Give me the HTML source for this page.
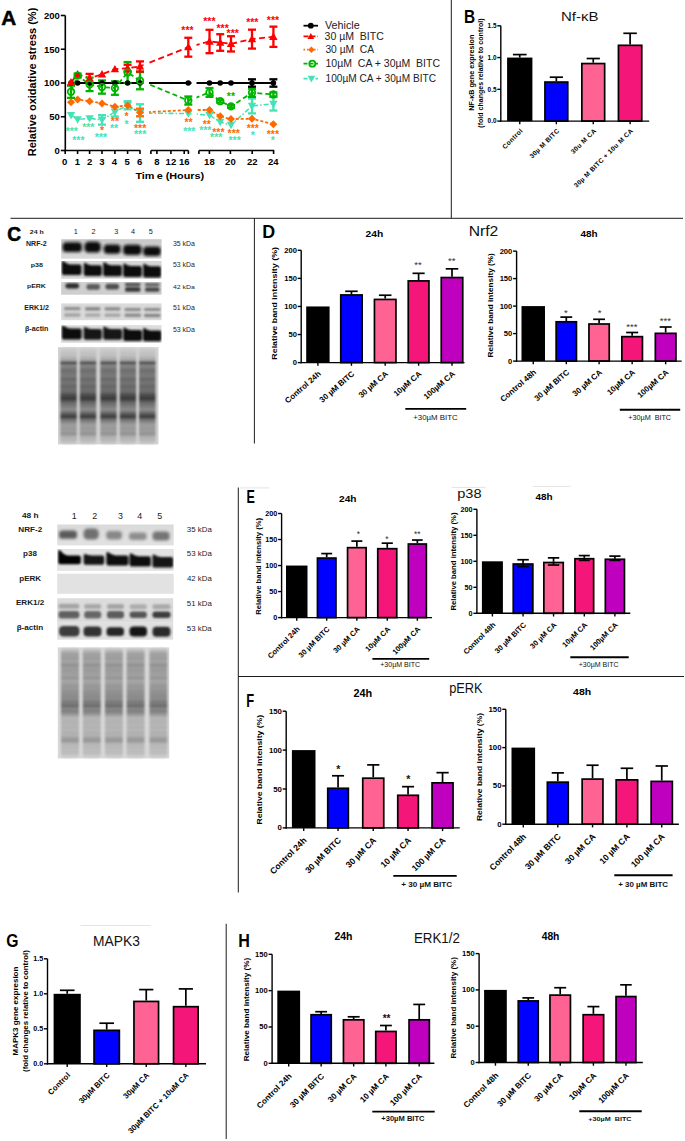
<!DOCTYPE html><html><head><meta charset="utf-8"><style>html,body{margin:0;padding:0;background:#fff;overflow:hidden}svg{display:block}text{font-family:"Liberation Sans",sans-serif;white-space:pre}</style></head><body>
<svg width="685" height="1141" viewBox="0 0 685 1141">
<rect width="685" height="1141" fill="#fff"/>
<line x1="451.3" y1="0" x2="451.3" y2="218.3" stroke="#1c1c1c" stroke-width="1"/>
<line x1="10.5" y1="218.3" x2="683" y2="218.3" stroke="#1c1c1c" stroke-width="1"/>
<line x1="254.4" y1="218.3" x2="254.4" y2="443.5" stroke="#1c1c1c" stroke-width="1"/>
<line x1="238.3" y1="487.5" x2="238.3" y2="892.5" stroke="#1c1c1c" stroke-width="1"/>
<line x1="238.3" y1="676.5" x2="684" y2="676.5" stroke="#1c1c1c" stroke-width="1"/>
<line x1="226.2" y1="923.8" x2="226.2" y2="1139" stroke="#1c1c1c" stroke-width="1"/>
<line x1="451.6" y1="487.4" x2="485.7" y2="487.4" stroke="#e4e4e4" stroke-width="1"/>
<line x1="533" y1="486.4" x2="570.5" y2="486.4" stroke="#e4e4e4" stroke-width="1"/>
<line x1="240" y1="487.9" x2="269" y2="487.9" stroke="#e4e4e4" stroke-width="1"/>
<line x1="80.6" y1="925.5" x2="150.7" y2="925.5" stroke="#e4e4e4" stroke-width="1"/>
<line x1="519.75" y1="57.57" x2="519.75" y2="54.58" stroke="#000" stroke-width="1.7"/>
<line x1="512.92" y1="54.58" x2="526.58" y2="54.58" stroke="#000" stroke-width="1.7"/>
<rect x="507.1" y="57.57" width="25.3" height="63.53" fill="#000"/>
<line x1="556.35" y1="81.2" x2="556.35" y2="77.2" stroke="#000" stroke-width="1.7"/>
<line x1="549.74" y1="77.2" x2="562.97" y2="77.2" stroke="#000" stroke-width="1.7"/>
<rect x="544.95" y="82.05" width="22.8" height="39.05" fill="#0000ff" stroke="#000" stroke-width="1.7"/>
<line x1="593.25" y1="62.71" x2="593.25" y2="58.52" stroke="#000" stroke-width="1.7"/>
<line x1="586.63" y1="58.52" x2="599.87" y2="58.52" stroke="#000" stroke-width="1.7"/>
<rect x="581.85" y="63.56" width="22.8" height="57.54" fill="#ff6394" stroke="#000" stroke-width="1.7"/>
<line x1="630.1" y1="44.48" x2="630.1" y2="33.3" stroke="#000" stroke-width="1.7"/>
<line x1="623.35" y1="33.3" x2="636.85" y2="33.3" stroke="#000" stroke-width="1.7"/>
<rect x="618.45" y="45.33" width="23.3" height="75.77" fill="#f5167a" stroke="#000" stroke-width="1.7"/>
<line x1="500.8" y1="121.8" x2="500.8" y2="25.8" stroke="#000" stroke-width="1.4"/>
<line x1="500.1" y1="121.1" x2="649.2" y2="121.1" stroke="#000" stroke-width="1.4"/>
<line x1="497.3" y1="121.1" x2="500.8" y2="121.1" stroke="#000" stroke-width="1.4"/>
<text x="496.5" y="123.4" font-size="6.4" font-weight="bold" text-anchor="end" fill="#000">0.0</text>
<line x1="497.3" y1="89.33" x2="500.8" y2="89.33" stroke="#000" stroke-width="1.4"/>
<text x="496.5" y="91.64" font-size="6.4" font-weight="bold" text-anchor="end" fill="#000">0.5</text>
<line x1="497.3" y1="57.57" x2="500.8" y2="57.57" stroke="#000" stroke-width="1.4"/>
<text x="496.5" y="59.87" font-size="6.4" font-weight="bold" text-anchor="end" fill="#000">1.0</text>
<line x1="497.3" y1="25.8" x2="500.8" y2="25.8" stroke="#000" stroke-width="1.4"/>
<text x="496.5" y="28.1" font-size="6.4" font-weight="bold" text-anchor="end" fill="#000">1.5</text>
<line x1="519.75" y1="121.1" x2="519.75" y2="124.3" stroke="#000" stroke-width="1.4"/>
<line x1="556.35" y1="121.1" x2="556.35" y2="124.3" stroke="#000" stroke-width="1.4"/>
<line x1="593.25" y1="121.1" x2="593.25" y2="124.3" stroke="#000" stroke-width="1.4"/>
<line x1="630.1" y1="121.1" x2="630.1" y2="124.3" stroke="#000" stroke-width="1.4"/>
<text x="523.25" y="131.1" font-size="6.6" font-weight="bold" text-anchor="end" letter-spacing="0.35" transform="rotate(-45 523.25 131.1)">Control</text>
<text x="559.85" y="131.1" font-size="6.6" font-weight="bold" text-anchor="end" letter-spacing="0.35" transform="rotate(-45 559.85 131.1)">30µ M BITC</text>
<text x="596.75" y="131.1" font-size="6.6" font-weight="bold" text-anchor="end" letter-spacing="0.35" transform="rotate(-45 596.75 131.1)">30u M CA</text>
<text x="633.6" y="131.1" font-size="6.6" font-weight="bold" text-anchor="end" letter-spacing="0.35" transform="rotate(-45 633.6 131.1)">30µ M BITC + 10u M CA</text>
<text x="0" y="0" font-size="7.23" font-weight="bold" fill="#000" transform="translate(474.26 110.87) rotate(-90)">NF-κB gene expresion</text>
<text x="0" y="0" font-size="7.06" font-weight="bold" fill="#000" transform="translate(482.92 127.65) rotate(-90)">(fold changes relative to control)</text>
<text x="0" y="0" font-size="19.28" font-weight="bold" transform="translate(463.9 22.5) scale(0.799 1)">B</text>
<text x="0" y="0" font-size="13.66" fill="#111" transform="translate(561 21.4) scale(1.100 1)">Nf-κB</text>
<rect x="306.2" y="306.45" width="23.4" height="56.15" fill="#000"/>
<line x1="351.45" y1="294.1" x2="351.45" y2="291.29" stroke="#000" stroke-width="1.7"/>
<line x1="345.21" y1="291.29" x2="357.69" y2="291.29" stroke="#000" stroke-width="1.7"/>
<rect x="340.75" y="294.95" width="21.4" height="67.65" fill="#0000ff" stroke="#000" stroke-width="1.7"/>
<line x1="385.2" y1="298.59" x2="385.2" y2="295.22" stroke="#000" stroke-width="1.7"/>
<line x1="378.94" y1="295.22" x2="391.46" y2="295.22" stroke="#000" stroke-width="1.7"/>
<rect x="374.45" y="299.44" width="21.5" height="63.16" fill="#ff6394" stroke="#000" stroke-width="1.7"/>
<line x1="418.6" y1="280.06" x2="418.6" y2="273.32" stroke="#000" stroke-width="1.7"/>
<line x1="412.55" y1="273.32" x2="424.65" y2="273.32" stroke="#000" stroke-width="1.7"/>
<rect x="408.25" y="280.91" width="20.7" height="81.69" fill="#f5167a" stroke="#000" stroke-width="1.7"/>
<line x1="452" y1="276.69" x2="452" y2="268.83" stroke="#000" stroke-width="1.7"/>
<line x1="445.74" y1="268.83" x2="458.26" y2="268.83" stroke="#000" stroke-width="1.7"/>
<rect x="441.25" y="277.54" width="21.5" height="85.06" fill="#bf00bf" stroke="#000" stroke-width="1.7"/>
<line x1="301.2" y1="363.3" x2="301.2" y2="250.3" stroke="#000" stroke-width="1.4"/>
<line x1="300.5" y1="362.6" x2="464.5" y2="362.6" stroke="#000" stroke-width="1.4"/>
<line x1="297.7" y1="362.6" x2="301.2" y2="362.6" stroke="#000" stroke-width="1.4"/>
<text x="296.9" y="365.34" font-size="7.6" font-weight="bold" text-anchor="end" fill="#000">0</text>
<line x1="297.7" y1="334.53" x2="301.2" y2="334.53" stroke="#000" stroke-width="1.4"/>
<text x="296.9" y="337.26" font-size="7.6" font-weight="bold" text-anchor="end" fill="#000">50</text>
<line x1="297.7" y1="306.45" x2="301.2" y2="306.45" stroke="#000" stroke-width="1.4"/>
<text x="296.9" y="309.19" font-size="7.6" font-weight="bold" text-anchor="end" fill="#000">100</text>
<line x1="297.7" y1="278.38" x2="301.2" y2="278.38" stroke="#000" stroke-width="1.4"/>
<text x="296.9" y="281.11" font-size="7.6" font-weight="bold" text-anchor="end" fill="#000">150</text>
<line x1="297.7" y1="250.3" x2="301.2" y2="250.3" stroke="#000" stroke-width="1.4"/>
<text x="296.9" y="253.04" font-size="7.6" font-weight="bold" text-anchor="end" fill="#000">200</text>
<line x1="317.9" y1="362.6" x2="317.9" y2="365.8" stroke="#000" stroke-width="1.4"/>
<line x1="351.45" y1="362.6" x2="351.45" y2="365.8" stroke="#000" stroke-width="1.4"/>
<line x1="385.2" y1="362.6" x2="385.2" y2="365.8" stroke="#000" stroke-width="1.4"/>
<line x1="418.6" y1="362.6" x2="418.6" y2="365.8" stroke="#000" stroke-width="1.4"/>
<line x1="452" y1="362.6" x2="452" y2="365.8" stroke="#000" stroke-width="1.4"/>
<text x="321.4" y="374.6" font-size="8" font-weight="bold" text-anchor="end" transform="rotate(-41 321.4 374.6)">Control 24h</text>
<text x="354.95" y="374.6" font-size="8" font-weight="bold" text-anchor="end" transform="rotate(-41 354.95 374.6)">30 µM BITC</text>
<text x="388.7" y="374.6" font-size="8" font-weight="bold" text-anchor="end" transform="rotate(-41 388.7 374.6)">30 µM CA</text>
<text x="422.1" y="374.6" font-size="8" font-weight="bold" text-anchor="end" transform="rotate(-41 422.1 374.6)">10µM CA</text>
<text x="455.5" y="374.6" font-size="8" font-weight="bold" text-anchor="end" transform="rotate(-41 455.5 374.6)">100µM CA</text>
<text x="418" y="267.83" font-size="9.5" font-weight="normal" text-anchor="middle" fill="#333">**</text>
<text x="451.7" y="264.23" font-size="9.5" font-weight="normal" text-anchor="middle" fill="#333">**</text>
<text x="0" y="0" font-size="8.86" font-weight="bold" fill="#000" transform="translate(277.02 359.68) rotate(-90) scale(1 0.8)">Relative band intensity (%)</text>
<line x1="405.3" y1="408.9" x2="466.2" y2="408.9" stroke="#000" stroke-width="1.9"/>
<text x="0" y="0" font-size="7.27" fill="#111" transform="translate(413.21 419.6) scale(1.082 1)">+30µM BITC</text>
<rect x="521.5" y="306.1" width="23.5" height="55" fill="#000"/>
<line x1="566.3" y1="320.95" x2="566.3" y2="317.1" stroke="#000" stroke-width="1.7"/>
<line x1="560.36" y1="317.1" x2="572.24" y2="317.1" stroke="#000" stroke-width="1.7"/>
<rect x="556.15" y="321.8" width="20.3" height="39.3" fill="#0000ff" stroke="#000" stroke-width="1.7"/>
<line x1="599.1" y1="323.15" x2="599.1" y2="319.3" stroke="#000" stroke-width="1.7"/>
<line x1="593.16" y1="319.3" x2="605.04" y2="319.3" stroke="#000" stroke-width="1.7"/>
<rect x="588.95" y="324" width="20.3" height="37.1" fill="#ff6394" stroke="#000" stroke-width="1.7"/>
<line x1="632.15" y1="335.8" x2="632.15" y2="332.5" stroke="#000" stroke-width="1.7"/>
<line x1="626.13" y1="332.5" x2="638.17" y2="332.5" stroke="#000" stroke-width="1.7"/>
<rect x="621.85" y="336.65" width="20.6" height="24.45" fill="#f5167a" stroke="#000" stroke-width="1.7"/>
<line x1="665.65" y1="332.5" x2="665.65" y2="327" stroke="#000" stroke-width="1.7"/>
<line x1="659.63" y1="327" x2="671.67" y2="327" stroke="#000" stroke-width="1.7"/>
<rect x="655.35" y="333.35" width="20.6" height="27.75" fill="#bf00bf" stroke="#000" stroke-width="1.7"/>
<line x1="516.6" y1="361.8" x2="516.6" y2="251.1" stroke="#000" stroke-width="1.4"/>
<line x1="515.9" y1="361.1" x2="681.7" y2="361.1" stroke="#000" stroke-width="1.4"/>
<line x1="513.1" y1="361.1" x2="516.6" y2="361.1" stroke="#000" stroke-width="1.4"/>
<text x="512.3" y="363.84" font-size="7.6" font-weight="bold" text-anchor="end" fill="#000">0</text>
<line x1="513.1" y1="333.6" x2="516.6" y2="333.6" stroke="#000" stroke-width="1.4"/>
<text x="512.3" y="336.34" font-size="7.6" font-weight="bold" text-anchor="end" fill="#000">50</text>
<line x1="513.1" y1="306.1" x2="516.6" y2="306.1" stroke="#000" stroke-width="1.4"/>
<text x="512.3" y="308.84" font-size="7.6" font-weight="bold" text-anchor="end" fill="#000">100</text>
<line x1="513.1" y1="278.6" x2="516.6" y2="278.6" stroke="#000" stroke-width="1.4"/>
<text x="512.3" y="281.34" font-size="7.6" font-weight="bold" text-anchor="end" fill="#000">150</text>
<line x1="513.1" y1="251.1" x2="516.6" y2="251.1" stroke="#000" stroke-width="1.4"/>
<text x="512.3" y="253.84" font-size="7.6" font-weight="bold" text-anchor="end" fill="#000">200</text>
<line x1="533.25" y1="361.1" x2="533.25" y2="364.3" stroke="#000" stroke-width="1.4"/>
<line x1="566.3" y1="361.1" x2="566.3" y2="364.3" stroke="#000" stroke-width="1.4"/>
<line x1="599.1" y1="361.1" x2="599.1" y2="364.3" stroke="#000" stroke-width="1.4"/>
<line x1="632.15" y1="361.1" x2="632.15" y2="364.3" stroke="#000" stroke-width="1.4"/>
<line x1="665.65" y1="361.1" x2="665.65" y2="364.3" stroke="#000" stroke-width="1.4"/>
<text x="536.75" y="373.1" font-size="8" font-weight="bold" text-anchor="end" transform="rotate(-41 536.75 373.1)">Control 48h</text>
<text x="569.8" y="373.1" font-size="8" font-weight="bold" text-anchor="end" transform="rotate(-41 569.8 373.1)">30 µM BITC</text>
<text x="602.6" y="373.1" font-size="8" font-weight="bold" text-anchor="end" transform="rotate(-41 602.6 373.1)">30 µM CA</text>
<text x="635.65" y="373.1" font-size="8" font-weight="bold" text-anchor="end" transform="rotate(-41 635.65 373.1)">10µM CA</text>
<text x="669.15" y="373.1" font-size="8" font-weight="bold" text-anchor="end" transform="rotate(-41 669.15 373.1)">100µM CA</text>
<text x="565.8" y="315.73" font-size="9.5" font-weight="normal" text-anchor="middle" fill="#333">*</text>
<text x="599.6" y="315.73" font-size="9.5" font-weight="normal" text-anchor="middle" fill="#333">*</text>
<text x="631.8" y="330.23" font-size="9.5" font-weight="normal" text-anchor="middle" fill="#333">***</text>
<text x="665.3" y="324.23" font-size="9.5" font-weight="normal" text-anchor="middle" fill="#333">***</text>
<text x="0" y="0" font-size="8.20" font-weight="bold" fill="#000" transform="translate(492.93 357.43) rotate(-90) scale(1 0.82)">Relative band intensity (%)</text>
<line x1="619.8" y1="409.7" x2="680.2" y2="409.7" stroke="#000" stroke-width="1.9"/>
<text x="0" y="0" font-size="6.54" fill="#111" transform="translate(628.24 419.6) scale(1.106 1)">+30µM  BITC</text>
<text x="0" y="0" font-size="19.13" font-weight="bold" transform="translate(262.14 238.4) scale(0.935 1)">D</text>
<text x="0" y="0" font-size="9.38" font-weight="bold" fill="#000" transform="translate(365.54 236.6) scale(1.096 1)">24h</text>
<text x="0" y="0" font-size="9.25" font-weight="bold" fill="#000" transform="translate(580.45 237.11) scale(1.078 1)">48h</text>
<text x="0" y="0" font-size="14.07" fill="#111" transform="translate(468.65 236) scale(1.115 1)">Nrf2</text>
<rect x="286" y="565.55" width="21.5" height="52.05" fill="#000"/>
<line x1="326.7" y1="557.22" x2="326.7" y2="553.58" stroke="#000" stroke-width="1.7"/>
<line x1="321.25" y1="553.58" x2="332.15" y2="553.58" stroke="#000" stroke-width="1.7"/>
<rect x="317.45" y="558.07" width="18.5" height="59.53" fill="#0000ff" stroke="#000" stroke-width="1.7"/>
<line x1="356.85" y1="546.81" x2="356.85" y2="541.09" stroke="#000" stroke-width="1.7"/>
<line x1="351.37" y1="541.09" x2="362.33" y2="541.09" stroke="#000" stroke-width="1.7"/>
<rect x="347.55" y="547.66" width="18.6" height="69.94" fill="#ff6394" stroke="#000" stroke-width="1.7"/>
<line x1="387.25" y1="547.85" x2="387.25" y2="543.17" stroke="#000" stroke-width="1.7"/>
<line x1="381.66" y1="543.17" x2="392.84" y2="543.17" stroke="#000" stroke-width="1.7"/>
<rect x="377.75" y="548.7" width="19" height="68.9" fill="#f5167a" stroke="#000" stroke-width="1.7"/>
<line x1="417.35" y1="543.17" x2="417.35" y2="540.05" stroke="#000" stroke-width="1.7"/>
<line x1="412.03" y1="540.05" x2="422.67" y2="540.05" stroke="#000" stroke-width="1.7"/>
<rect x="408.35" y="544.02" width="18" height="73.58" fill="#bf00bf" stroke="#000" stroke-width="1.7"/>
<line x1="281.6" y1="618.3" x2="281.6" y2="513.5" stroke="#000" stroke-width="1.4"/>
<line x1="280.9" y1="617.6" x2="432" y2="617.6" stroke="#000" stroke-width="1.4"/>
<line x1="278.1" y1="617.6" x2="281.6" y2="617.6" stroke="#000" stroke-width="1.4"/>
<text x="277.3" y="619.94" font-size="6.5" font-weight="bold" text-anchor="end" fill="#000" transform="translate(277.3 619.94) scale(1.12 1) translate(-277.3 -619.94)">0</text>
<line x1="278.1" y1="591.58" x2="281.6" y2="591.58" stroke="#000" stroke-width="1.4"/>
<text x="277.3" y="593.92" font-size="6.5" font-weight="bold" text-anchor="end" fill="#000" transform="translate(277.3 593.92) scale(1.12 1) translate(-277.3 -593.92)">50</text>
<line x1="278.1" y1="565.55" x2="281.6" y2="565.55" stroke="#000" stroke-width="1.4"/>
<text x="277.3" y="567.89" font-size="6.5" font-weight="bold" text-anchor="end" fill="#000" transform="translate(277.3 567.89) scale(1.12 1) translate(-277.3 -567.89)">100</text>
<line x1="278.1" y1="539.52" x2="281.6" y2="539.52" stroke="#000" stroke-width="1.4"/>
<text x="277.3" y="541.87" font-size="6.5" font-weight="bold" text-anchor="end" fill="#000" transform="translate(277.3 541.87) scale(1.12 1) translate(-277.3 -541.87)">150</text>
<line x1="278.1" y1="513.5" x2="281.6" y2="513.5" stroke="#000" stroke-width="1.4"/>
<text x="277.3" y="515.84" font-size="6.5" font-weight="bold" text-anchor="end" fill="#000" transform="translate(277.3 515.84) scale(1.12 1) translate(-277.3 -515.84)">200</text>
<line x1="296.75" y1="617.6" x2="296.75" y2="620.8" stroke="#000" stroke-width="1.4"/>
<line x1="326.7" y1="617.6" x2="326.7" y2="620.8" stroke="#000" stroke-width="1.4"/>
<line x1="356.85" y1="617.6" x2="356.85" y2="620.8" stroke="#000" stroke-width="1.4"/>
<line x1="387.25" y1="617.6" x2="387.25" y2="620.8" stroke="#000" stroke-width="1.4"/>
<line x1="417.35" y1="617.6" x2="417.35" y2="620.8" stroke="#000" stroke-width="1.4"/>
<text x="300.25" y="629.6" font-size="7.5" font-weight="bold" text-anchor="end" transform="rotate(-45 300.25 629.6)">Control 24h</text>
<text x="330.2" y="629.6" font-size="7.5" font-weight="bold" text-anchor="end" transform="rotate(-45 330.2 629.6)">30 µM BITC</text>
<text x="360.35" y="629.6" font-size="7.5" font-weight="bold" text-anchor="end" transform="rotate(-45 360.35 629.6)">30 µM CA</text>
<text x="390.75" y="629.6" font-size="7.5" font-weight="bold" text-anchor="end" transform="rotate(-45 390.75 629.6)">10µM CA</text>
<text x="420.85" y="629.6" font-size="7.5" font-weight="bold" text-anchor="end" transform="rotate(-45 420.85 629.6)">100µM CA</text>
<text x="358.4" y="537.38" font-size="8.5" font-weight="normal" text-anchor="middle" fill="#333">*</text>
<text x="387" y="542.07" font-size="8.5" font-weight="normal" text-anchor="middle" fill="#333">*</text>
<text x="417.3" y="536.97" font-size="8.5" font-weight="normal" text-anchor="middle" fill="#333">**</text>
<text x="0" y="0" font-size="7.62" font-weight="bold" fill="#000" transform="translate(260.71 614.8) rotate(-90) scale(1 0.92)">Relative band intensity (%)</text>
<line x1="372.4" y1="658.9" x2="429.2" y2="658.9" stroke="#000" stroke-width="1.9"/>
<text x="0" y="0" font-size="6.54" fill="#111" transform="translate(380.25 666.5) scale(1.079 1)">+30µM BITC</text>
<rect x="481.9" y="561.3" width="21" height="52" fill="#000"/>
<line x1="523.05" y1="563.17" x2="523.05" y2="559.74" stroke="#000" stroke-width="1.7"/>
<line x1="517.3" y1="559.74" x2="528.8" y2="559.74" stroke="#000" stroke-width="1.7"/>
<rect x="513.25" y="564.02" width="19.6" height="49.28" fill="#0000ff" stroke="#000" stroke-width="1.7"/>
<line x1="523.05" y1="563.17" x2="523.05" y2="566.55" stroke="#000" stroke-width="1.7"/>
<line x1="517.3" y1="566.55" x2="528.8" y2="566.55" stroke="#000" stroke-width="1.7"/>
<line x1="553.55" y1="561.66" x2="553.55" y2="557.87" stroke="#000" stroke-width="1.7"/>
<line x1="547.85" y1="557.87" x2="559.25" y2="557.87" stroke="#000" stroke-width="1.7"/>
<rect x="543.85" y="562.51" width="19.4" height="50.79" fill="#ff6394" stroke="#000" stroke-width="1.7"/>
<line x1="553.55" y1="561.66" x2="553.55" y2="565.04" stroke="#000" stroke-width="1.7"/>
<line x1="547.85" y1="565.04" x2="559.25" y2="565.04" stroke="#000" stroke-width="1.7"/>
<line x1="584.3" y1="557.87" x2="584.3" y2="555.58" stroke="#000" stroke-width="1.7"/>
<line x1="578.79" y1="555.58" x2="589.81" y2="555.58" stroke="#000" stroke-width="1.7"/>
<rect x="574.95" y="558.72" width="18.7" height="54.58" fill="#f5167a" stroke="#000" stroke-width="1.7"/>
<line x1="584.3" y1="557.87" x2="584.3" y2="560.36" stroke="#000" stroke-width="1.7"/>
<line x1="578.79" y1="560.36" x2="589.81" y2="560.36" stroke="#000" stroke-width="1.7"/>
<line x1="614.9" y1="558.44" x2="614.9" y2="556.1" stroke="#000" stroke-width="1.7"/>
<line x1="609.28" y1="556.1" x2="620.52" y2="556.1" stroke="#000" stroke-width="1.7"/>
<rect x="605.35" y="559.29" width="19.1" height="54.01" fill="#bf00bf" stroke="#000" stroke-width="1.7"/>
<line x1="614.9" y1="558.44" x2="614.9" y2="560.36" stroke="#000" stroke-width="1.7"/>
<line x1="609.28" y1="560.36" x2="620.52" y2="560.36" stroke="#000" stroke-width="1.7"/>
<line x1="476.9" y1="614" x2="476.9" y2="509.3" stroke="#000" stroke-width="1.4"/>
<line x1="476.2" y1="613.3" x2="630.3" y2="613.3" stroke="#000" stroke-width="1.4"/>
<line x1="473.4" y1="613.3" x2="476.9" y2="613.3" stroke="#000" stroke-width="1.4"/>
<text x="472.6" y="615.64" font-size="6.5" font-weight="bold" text-anchor="end" fill="#000" transform="translate(472.6 615.64) scale(1.12 1) translate(-472.6 -615.64)">0</text>
<line x1="473.4" y1="587.3" x2="476.9" y2="587.3" stroke="#000" stroke-width="1.4"/>
<text x="472.6" y="589.64" font-size="6.5" font-weight="bold" text-anchor="end" fill="#000" transform="translate(472.6 589.64) scale(1.12 1) translate(-472.6 -589.64)">50</text>
<line x1="473.4" y1="561.3" x2="476.9" y2="561.3" stroke="#000" stroke-width="1.4"/>
<text x="472.6" y="563.64" font-size="6.5" font-weight="bold" text-anchor="end" fill="#000" transform="translate(472.6 563.64) scale(1.12 1) translate(-472.6 -563.64)">100</text>
<line x1="473.4" y1="535.3" x2="476.9" y2="535.3" stroke="#000" stroke-width="1.4"/>
<text x="472.6" y="537.64" font-size="6.5" font-weight="bold" text-anchor="end" fill="#000" transform="translate(472.6 537.64) scale(1.12 1) translate(-472.6 -537.64)">150</text>
<line x1="473.4" y1="509.3" x2="476.9" y2="509.3" stroke="#000" stroke-width="1.4"/>
<text x="472.6" y="511.64" font-size="6.5" font-weight="bold" text-anchor="end" fill="#000" transform="translate(472.6 511.64) scale(1.12 1) translate(-472.6 -511.64)">200</text>
<line x1="492.4" y1="613.3" x2="492.4" y2="616.5" stroke="#000" stroke-width="1.4"/>
<line x1="523.05" y1="613.3" x2="523.05" y2="616.5" stroke="#000" stroke-width="1.4"/>
<line x1="553.55" y1="613.3" x2="553.55" y2="616.5" stroke="#000" stroke-width="1.4"/>
<line x1="584.3" y1="613.3" x2="584.3" y2="616.5" stroke="#000" stroke-width="1.4"/>
<line x1="614.9" y1="613.3" x2="614.9" y2="616.5" stroke="#000" stroke-width="1.4"/>
<text x="495.9" y="625.3" font-size="7.5" font-weight="bold" text-anchor="end" transform="rotate(-45 495.9 625.3)">Control 48h</text>
<text x="526.55" y="625.3" font-size="7.5" font-weight="bold" text-anchor="end" transform="rotate(-45 526.55 625.3)">30 µM BITC</text>
<text x="557.05" y="625.3" font-size="7.5" font-weight="bold" text-anchor="end" transform="rotate(-45 557.05 625.3)">30 µM CA</text>
<text x="587.8" y="625.3" font-size="7.5" font-weight="bold" text-anchor="end" transform="rotate(-45 587.8 625.3)">10µM CA</text>
<text x="618.4" y="625.3" font-size="7.5" font-weight="bold" text-anchor="end" transform="rotate(-45 618.4 625.3)">100µM CA</text>
<text x="0" y="0" font-size="7.73" font-weight="bold" fill="#000" transform="translate(455.83 610.6) rotate(-90) scale(1 0.92)">Relative band intensity (%)</text>
<line x1="570.3" y1="657.2" x2="628.7" y2="657.2" stroke="#000" stroke-width="1.9"/>
<text x="0" y="0" font-size="6.54" fill="#111" transform="translate(578.75 666.6) scale(1.076 1)">+30µM BITC</text>
<text x="0" y="0" font-size="18.12" font-weight="bold" transform="translate(246.58 503.2) scale(0.694 1)">E</text>
<text x="0" y="0" font-size="8.97" font-weight="bold" fill="#000" transform="translate(339.04 502.4) scale(1.133 1)">24h</text>
<text x="0" y="0" font-size="8.84" font-weight="bold" fill="#000" transform="translate(535.45 500.31) scale(1.127 1)">48h</text>
<text x="0" y="0" font-size="13.08" fill="#111" transform="translate(457.15 498.35) scale(1.118 1)">p38</text>
<rect x="291.9" y="750.1" width="23.6" height="77.8" fill="#000"/>
<line x1="338.05" y1="787.44" x2="338.05" y2="775.77" stroke="#000" stroke-width="1.7"/>
<line x1="332.03" y1="775.77" x2="344.07" y2="775.77" stroke="#000" stroke-width="1.7"/>
<rect x="327.75" y="788.29" width="20.6" height="39.61" fill="#0000ff" stroke="#000" stroke-width="1.7"/>
<line x1="373.25" y1="777.33" x2="373.25" y2="764.88" stroke="#000" stroke-width="1.7"/>
<line x1="367.12" y1="764.88" x2="379.38" y2="764.88" stroke="#000" stroke-width="1.7"/>
<rect x="362.75" y="778.18" width="21" height="49.72" fill="#ff6394" stroke="#000" stroke-width="1.7"/>
<line x1="408.05" y1="794.45" x2="408.05" y2="786.67" stroke="#000" stroke-width="1.7"/>
<line x1="402.03" y1="786.67" x2="414.07" y2="786.67" stroke="#000" stroke-width="1.7"/>
<rect x="397.75" y="795.3" width="20.6" height="32.6" fill="#f5167a" stroke="#000" stroke-width="1.7"/>
<line x1="442.55" y1="782" x2="442.55" y2="772.66" stroke="#000" stroke-width="1.7"/>
<line x1="436.42" y1="772.66" x2="448.68" y2="772.66" stroke="#000" stroke-width="1.7"/>
<rect x="432.05" y="782.85" width="21" height="45.05" fill="#bf00bf" stroke="#000" stroke-width="1.7"/>
<line x1="286.2" y1="828.6" x2="286.2" y2="711.2" stroke="#000" stroke-width="1.4"/>
<line x1="285.5" y1="827.9" x2="459.7" y2="827.9" stroke="#000" stroke-width="1.4"/>
<line x1="282.7" y1="827.9" x2="286.2" y2="827.9" stroke="#000" stroke-width="1.4"/>
<text x="281.9" y="830.46" font-size="7.1" font-weight="bold" text-anchor="end" fill="#000" transform="translate(281.9 830.46) scale(1.1 1) translate(-281.9 -830.46)">0</text>
<line x1="282.7" y1="789" x2="286.2" y2="789" stroke="#000" stroke-width="1.4"/>
<text x="281.9" y="791.56" font-size="7.1" font-weight="bold" text-anchor="end" fill="#000" transform="translate(281.9 791.56) scale(1.1 1) translate(-281.9 -791.56)">50</text>
<line x1="282.7" y1="750.1" x2="286.2" y2="750.1" stroke="#000" stroke-width="1.4"/>
<text x="281.9" y="752.66" font-size="7.1" font-weight="bold" text-anchor="end" fill="#000" transform="translate(281.9 752.66) scale(1.1 1) translate(-281.9 -752.66)">100</text>
<line x1="282.7" y1="711.2" x2="286.2" y2="711.2" stroke="#000" stroke-width="1.4"/>
<text x="281.9" y="713.76" font-size="7.1" font-weight="bold" text-anchor="end" fill="#000" transform="translate(281.9 713.76) scale(1.1 1) translate(-281.9 -713.76)">150</text>
<line x1="303.7" y1="827.9" x2="303.7" y2="831.1" stroke="#000" stroke-width="1.4"/>
<line x1="338.05" y1="827.9" x2="338.05" y2="831.1" stroke="#000" stroke-width="1.4"/>
<line x1="373.25" y1="827.9" x2="373.25" y2="831.1" stroke="#000" stroke-width="1.4"/>
<line x1="408.05" y1="827.9" x2="408.05" y2="831.1" stroke="#000" stroke-width="1.4"/>
<line x1="442.55" y1="827.9" x2="442.55" y2="831.1" stroke="#000" stroke-width="1.4"/>
<text x="307.2" y="840.9" font-size="8.6" font-weight="bold" text-anchor="end" transform="rotate(-45 307.2 840.9)">Control 24h</text>
<text x="341.55" y="840.9" font-size="8.6" font-weight="bold" text-anchor="end" transform="rotate(-45 341.55 840.9)">30 µM BITC</text>
<text x="376.75" y="840.9" font-size="8.6" font-weight="bold" text-anchor="end" transform="rotate(-45 376.75 840.9)">30 µM CA</text>
<text x="411.55" y="840.9" font-size="8.6" font-weight="bold" text-anchor="end" transform="rotate(-45 411.55 840.9)">10 µM CA</text>
<text x="446.05" y="840.9" font-size="8.6" font-weight="bold" text-anchor="end" transform="rotate(-45 446.05 840.9)">100 µM CA</text>
<text x="338.4" y="773.15" font-size="10.5" font-weight="bold" text-anchor="middle" fill="#111">*</text>
<text x="408.2" y="782.96" font-size="10.5" font-weight="bold" text-anchor="middle" fill="#111">*</text>
<text x="0" y="0" font-size="8.64" font-weight="bold" fill="#000" transform="translate(261.89 824.56) rotate(-90) scale(1 0.85)">Relative band intensity (%)</text>
<line x1="393.3" y1="875.9" x2="456.7" y2="875.9" stroke="#000" stroke-width="1.9"/>
<text x="0" y="0" font-size="6.54" font-weight="bold" fill="#111" transform="translate(401.17 886.6) scale(1.244 1)">+ 30 µM BITC</text>
<rect x="511.5" y="747.6" width="23.6" height="76.6" fill="#000"/>
<line x1="557.8" y1="781.3" x2="557.8" y2="772.88" stroke="#000" stroke-width="1.7"/>
<line x1="551.7" y1="772.88" x2="563.9" y2="772.88" stroke="#000" stroke-width="1.7"/>
<rect x="547.35" y="782.15" width="20.9" height="42.05" fill="#0000ff" stroke="#000" stroke-width="1.7"/>
<line x1="592.55" y1="778.24" x2="592.55" y2="765.22" stroke="#000" stroke-width="1.7"/>
<line x1="586.47" y1="765.22" x2="598.62" y2="765.22" stroke="#000" stroke-width="1.7"/>
<rect x="582.15" y="779.09" width="20.8" height="45.11" fill="#ff6394" stroke="#000" stroke-width="1.7"/>
<line x1="626.9" y1="779.01" x2="626.9" y2="768.28" stroke="#000" stroke-width="1.7"/>
<line x1="620.64" y1="768.28" x2="633.16" y2="768.28" stroke="#000" stroke-width="1.7"/>
<rect x="616.15" y="779.86" width="21.5" height="44.34" fill="#f5167a" stroke="#000" stroke-width="1.7"/>
<line x1="661.75" y1="780.54" x2="661.75" y2="765.98" stroke="#000" stroke-width="1.7"/>
<line x1="655.57" y1="765.98" x2="667.93" y2="765.98" stroke="#000" stroke-width="1.7"/>
<rect x="651.15" y="781.39" width="21.2" height="42.81" fill="#bf00bf" stroke="#000" stroke-width="1.7"/>
<line x1="505.8" y1="824.9" x2="505.8" y2="709.3" stroke="#000" stroke-width="1.4"/>
<line x1="505.1" y1="824.2" x2="678.9" y2="824.2" stroke="#000" stroke-width="1.4"/>
<line x1="502.3" y1="824.2" x2="505.8" y2="824.2" stroke="#000" stroke-width="1.4"/>
<text x="501.5" y="826.76" font-size="7.1" font-weight="bold" text-anchor="end" fill="#000" transform="translate(501.5 826.76) scale(1.1 1) translate(-501.5 -826.76)">0</text>
<line x1="502.3" y1="785.9" x2="505.8" y2="785.9" stroke="#000" stroke-width="1.4"/>
<text x="501.5" y="788.46" font-size="7.1" font-weight="bold" text-anchor="end" fill="#000" transform="translate(501.5 788.46) scale(1.1 1) translate(-501.5 -788.46)">50</text>
<line x1="502.3" y1="747.6" x2="505.8" y2="747.6" stroke="#000" stroke-width="1.4"/>
<text x="501.5" y="750.16" font-size="7.1" font-weight="bold" text-anchor="end" fill="#000" transform="translate(501.5 750.16) scale(1.1 1) translate(-501.5 -750.16)">100</text>
<line x1="502.3" y1="709.3" x2="505.8" y2="709.3" stroke="#000" stroke-width="1.4"/>
<text x="501.5" y="711.86" font-size="7.1" font-weight="bold" text-anchor="end" fill="#000" transform="translate(501.5 711.86) scale(1.1 1) translate(-501.5 -711.86)">150</text>
<line x1="523.3" y1="824.2" x2="523.3" y2="827.4" stroke="#000" stroke-width="1.4"/>
<line x1="557.8" y1="824.2" x2="557.8" y2="827.4" stroke="#000" stroke-width="1.4"/>
<line x1="592.55" y1="824.2" x2="592.55" y2="827.4" stroke="#000" stroke-width="1.4"/>
<line x1="626.9" y1="824.2" x2="626.9" y2="827.4" stroke="#000" stroke-width="1.4"/>
<line x1="661.75" y1="824.2" x2="661.75" y2="827.4" stroke="#000" stroke-width="1.4"/>
<text x="526.8" y="837.2" font-size="8.6" font-weight="bold" text-anchor="end" transform="rotate(-45 526.8 837.2)">Control 48h</text>
<text x="561.3" y="837.2" font-size="8.6" font-weight="bold" text-anchor="end" transform="rotate(-45 561.3 837.2)">30 µM BITC</text>
<text x="596.05" y="837.2" font-size="8.6" font-weight="bold" text-anchor="end" transform="rotate(-45 596.05 837.2)">30 µM CA</text>
<text x="630.4" y="837.2" font-size="8.6" font-weight="bold" text-anchor="end" transform="rotate(-45 630.4 837.2)">10 µM CA</text>
<text x="665.25" y="837.2" font-size="8.6" font-weight="bold" text-anchor="end" transform="rotate(-45 665.25 837.2)">100 µM CA</text>
<text x="0" y="0" font-size="8.51" font-weight="bold" fill="#000" transform="translate(481.93 821.05) rotate(-90) scale(1 0.88)">Relative band intensity (%)</text>
<line x1="614.3" y1="875.3" x2="672.6" y2="875.3" stroke="#000" stroke-width="1.9"/>
<text x="0" y="0" font-size="6.54" font-weight="bold" fill="#111" transform="translate(618.18 887.1) scale(1.217 1)">+ 30 µM BITC</text>
<text x="0" y="0" font-size="18.55" font-weight="bold" transform="translate(246.36 707.2) scale(0.698 1)">F</text>
<text x="0" y="0" font-size="10.90" font-weight="bold" fill="#000" transform="translate(353.52 696.9) scale(0.994 1)">24h</text>
<text x="0" y="0" font-size="9.93" font-weight="bold" fill="#000" transform="translate(573.04 694.6) scale(1.059 1)">48h</text>
<text x="0" y="0" font-size="13.78" fill="#111" transform="translate(449.17 693.21) scale(0.931 1)">pERK</text>
<line x1="67.2" y1="993.8" x2="67.2" y2="990.3" stroke="#000" stroke-width="1.7"/>
<line x1="59.86" y1="990.3" x2="74.54" y2="990.3" stroke="#000" stroke-width="1.7"/>
<rect x="53.6" y="993.8" width="27.2" height="70" fill="#000"/>
<line x1="106.7" y1="1029.5" x2="106.7" y2="1023.2" stroke="#000" stroke-width="1.7"/>
<line x1="99.41" y1="1023.2" x2="113.99" y2="1023.2" stroke="#000" stroke-width="1.7"/>
<rect x="94.05" y="1030.35" width="25.3" height="33.45" fill="#0000ff" stroke="#000" stroke-width="1.7"/>
<line x1="146.25" y1="1000.59" x2="146.25" y2="989.6" stroke="#000" stroke-width="1.7"/>
<line x1="139.15" y1="989.6" x2="153.35" y2="989.6" stroke="#000" stroke-width="1.7"/>
<rect x="133.95" y="1001.44" width="24.6" height="62.36" fill="#ff6394" stroke="#000" stroke-width="1.7"/>
<line x1="185.85" y1="1005.84" x2="185.85" y2="988.9" stroke="#000" stroke-width="1.7"/>
<line x1="178.75" y1="988.9" x2="192.95" y2="988.9" stroke="#000" stroke-width="1.7"/>
<rect x="173.55" y="1006.69" width="24.6" height="57.11" fill="#f5167a" stroke="#000" stroke-width="1.7"/>
<line x1="47.5" y1="1064.5" x2="47.5" y2="958.8" stroke="#000" stroke-width="1.4"/>
<line x1="46.8" y1="1063.8" x2="206" y2="1063.8" stroke="#000" stroke-width="1.4"/>
<line x1="44" y1="1063.8" x2="47.5" y2="1063.8" stroke="#000" stroke-width="1.4"/>
<text x="43.2" y="1066.39" font-size="7.2" font-weight="bold" text-anchor="end" fill="#000">0.0</text>
<line x1="44" y1="1028.8" x2="47.5" y2="1028.8" stroke="#000" stroke-width="1.4"/>
<text x="43.2" y="1031.39" font-size="7.2" font-weight="bold" text-anchor="end" fill="#000">0.5</text>
<line x1="44" y1="993.8" x2="47.5" y2="993.8" stroke="#000" stroke-width="1.4"/>
<text x="43.2" y="996.39" font-size="7.2" font-weight="bold" text-anchor="end" fill="#000">1.0</text>
<line x1="44" y1="958.8" x2="47.5" y2="958.8" stroke="#000" stroke-width="1.4"/>
<text x="43.2" y="961.39" font-size="7.2" font-weight="bold" text-anchor="end" fill="#000">1.5</text>
<line x1="67.2" y1="1063.8" x2="67.2" y2="1067" stroke="#000" stroke-width="1.4"/>
<line x1="106.7" y1="1063.8" x2="106.7" y2="1067" stroke="#000" stroke-width="1.4"/>
<line x1="146.25" y1="1063.8" x2="146.25" y2="1067" stroke="#000" stroke-width="1.4"/>
<line x1="185.85" y1="1063.8" x2="185.85" y2="1067" stroke="#000" stroke-width="1.4"/>
<text x="70.7" y="1075.8" font-size="7.8" font-weight="bold" text-anchor="end" transform="rotate(-45 70.7 1075.8)">Control</text>
<text x="110.2" y="1075.8" font-size="7.8" font-weight="bold" text-anchor="end" transform="rotate(-45 110.2 1075.8)">30µM BITC</text>
<text x="149.75" y="1075.8" font-size="7.8" font-weight="bold" text-anchor="end" transform="rotate(-45 149.75 1075.8)">30µM CA</text>
<text x="189.35" y="1075.8" font-size="7.8" font-weight="bold" text-anchor="end" transform="rotate(-45 189.35 1075.8)">30µM BITC + 10uM CA</text>
<text x="0" y="0" font-size="8.01" font-weight="bold" fill="#000" transform="translate(18.36 1055.52) rotate(-90)">MAPK3 gene expresion</text>
<text x="0" y="0" font-size="7.87" font-weight="bold" fill="#000" transform="translate(27.63 1071.99) rotate(-90)">(fold changes relative to control)</text>
<text x="0" y="0" font-size="17.75" font-weight="bold" transform="translate(6.37 947.22) scale(0.885 1)">G</text>
<text x="0" y="0" font-size="14.37" fill="#111" transform="translate(93.09 946.36) scale(0.962 1)">MAPK3</text>
<rect x="277.3" y="990.63" width="22.8" height="72.67" fill="#000"/>
<line x1="321.15" y1="1013.89" x2="321.15" y2="1011.71" stroke="#000" stroke-width="1.7"/>
<line x1="315.24" y1="1011.71" x2="327.06" y2="1011.71" stroke="#000" stroke-width="1.7"/>
<rect x="311.05" y="1014.74" width="20.2" height="48.56" fill="#0000ff" stroke="#000" stroke-width="1.7"/>
<line x1="353.65" y1="1018.97" x2="353.65" y2="1016.79" stroke="#000" stroke-width="1.7"/>
<line x1="347.68" y1="1016.79" x2="359.62" y2="1016.79" stroke="#000" stroke-width="1.7"/>
<rect x="343.45" y="1019.82" width="20.4" height="43.48" fill="#ff6394" stroke="#000" stroke-width="1.7"/>
<line x1="385.9" y1="1030.6" x2="385.9" y2="1025.51" stroke="#000" stroke-width="1.7"/>
<line x1="379.96" y1="1025.51" x2="391.84" y2="1025.51" stroke="#000" stroke-width="1.7"/>
<rect x="375.75" y="1031.45" width="20.3" height="31.85" fill="#f5167a" stroke="#000" stroke-width="1.7"/>
<line x1="419.2" y1="1018.97" x2="419.2" y2="1004.44" stroke="#000" stroke-width="1.7"/>
<line x1="413.26" y1="1004.44" x2="425.14" y2="1004.44" stroke="#000" stroke-width="1.7"/>
<rect x="409.05" y="1019.82" width="20.3" height="43.48" fill="#bf00bf" stroke="#000" stroke-width="1.7"/>
<line x1="272.1" y1="1064" x2="272.1" y2="954.3" stroke="#000" stroke-width="1.4"/>
<line x1="271.4" y1="1063.3" x2="434.4" y2="1063.3" stroke="#000" stroke-width="1.4"/>
<line x1="268.6" y1="1063.3" x2="272.1" y2="1063.3" stroke="#000" stroke-width="1.4"/>
<text x="267.8" y="1065.68" font-size="6.6" font-weight="bold" text-anchor="end" fill="#000" transform="translate(267.8 1065.68) scale(1.15 1) translate(-267.8 -1065.68)">0</text>
<line x1="268.6" y1="1026.97" x2="272.1" y2="1026.97" stroke="#000" stroke-width="1.4"/>
<text x="267.8" y="1029.34" font-size="6.6" font-weight="bold" text-anchor="end" fill="#000" transform="translate(267.8 1029.34) scale(1.15 1) translate(-267.8 -1029.34)">50</text>
<line x1="268.6" y1="990.63" x2="272.1" y2="990.63" stroke="#000" stroke-width="1.4"/>
<text x="267.8" y="993.01" font-size="6.6" font-weight="bold" text-anchor="end" fill="#000" transform="translate(267.8 993.01) scale(1.15 1) translate(-267.8 -993.01)">100</text>
<line x1="268.6" y1="954.3" x2="272.1" y2="954.3" stroke="#000" stroke-width="1.4"/>
<text x="267.8" y="956.68" font-size="6.6" font-weight="bold" text-anchor="end" fill="#000" transform="translate(267.8 956.68) scale(1.15 1) translate(-267.8 -956.68)">150</text>
<line x1="288.7" y1="1063.3" x2="288.7" y2="1066.5" stroke="#000" stroke-width="1.4"/>
<line x1="321.15" y1="1063.3" x2="321.15" y2="1066.5" stroke="#000" stroke-width="1.4"/>
<line x1="353.65" y1="1063.3" x2="353.65" y2="1066.5" stroke="#000" stroke-width="1.4"/>
<line x1="385.9" y1="1063.3" x2="385.9" y2="1066.5" stroke="#000" stroke-width="1.4"/>
<line x1="419.2" y1="1063.3" x2="419.2" y2="1066.5" stroke="#000" stroke-width="1.4"/>
<text x="292.2" y="1076.8" font-size="8.2" font-weight="bold" text-anchor="end" transform="rotate(-45 292.2 1076.8)">Control 24h</text>
<text x="324.65" y="1076.8" font-size="8.2" font-weight="bold" text-anchor="end" transform="rotate(-45 324.65 1076.8)">30 µM BITC</text>
<text x="357.15" y="1076.8" font-size="8.2" font-weight="bold" text-anchor="end" transform="rotate(-45 357.15 1076.8)">30 µM CA</text>
<text x="389.4" y="1076.8" font-size="8.2" font-weight="bold" text-anchor="end" transform="rotate(-45 389.4 1076.8)">10 µM CA</text>
<text x="422.7" y="1076.8" font-size="8.2" font-weight="bold" text-anchor="end" transform="rotate(-45 422.7 1076.8)">100 µM CA</text>
<text x="386.6" y="1021.8" font-size="10" font-weight="bold" text-anchor="middle" fill="#111">**</text>
<text x="0" y="0" font-size="8.14" font-weight="bold" fill="#000" transform="translate(248.62 1061.33) rotate(-90) scale(1 0.82)">Relative band intensity (%)</text>
<line x1="372.3" y1="1111.6" x2="434.7" y2="1111.6" stroke="#000" stroke-width="1.9"/>
<text x="0" y="0" font-size="6.54" font-weight="bold" fill="#111" transform="translate(381.3 1120.8) scale(1.158 1)">+30µM BITC</text>
<rect x="484.1" y="989.9" width="22.7" height="72.6" fill="#000"/>
<line x1="528.25" y1="1000.06" x2="528.25" y2="997.89" stroke="#000" stroke-width="1.7"/>
<line x1="522.39" y1="997.89" x2="534.11" y2="997.89" stroke="#000" stroke-width="1.7"/>
<rect x="518.25" y="1000.91" width="20" height="61.59" fill="#0000ff" stroke="#000" stroke-width="1.7"/>
<line x1="560.2" y1="994.26" x2="560.2" y2="987.72" stroke="#000" stroke-width="1.7"/>
<line x1="554.21" y1="987.72" x2="566.19" y2="987.72" stroke="#000" stroke-width="1.7"/>
<rect x="549.95" y="995.11" width="20.5" height="67.39" fill="#ff6394" stroke="#000" stroke-width="1.7"/>
<line x1="593.4" y1="1013.86" x2="593.4" y2="1006.6" stroke="#000" stroke-width="1.7"/>
<line x1="587.41" y1="1006.6" x2="599.39" y2="1006.6" stroke="#000" stroke-width="1.7"/>
<rect x="583.15" y="1014.71" width="20.5" height="47.79" fill="#f5167a" stroke="#000" stroke-width="1.7"/>
<line x1="625.95" y1="995.71" x2="625.95" y2="984.82" stroke="#000" stroke-width="1.7"/>
<line x1="620.15" y1="984.82" x2="631.75" y2="984.82" stroke="#000" stroke-width="1.7"/>
<rect x="616.05" y="996.56" width="19.8" height="65.94" fill="#bf00bf" stroke="#000" stroke-width="1.7"/>
<line x1="479.1" y1="1063.2" x2="479.1" y2="953.6" stroke="#000" stroke-width="1.4"/>
<line x1="478.4" y1="1062.5" x2="642.8" y2="1062.5" stroke="#000" stroke-width="1.4"/>
<line x1="475.6" y1="1062.5" x2="479.1" y2="1062.5" stroke="#000" stroke-width="1.4"/>
<text x="474.8" y="1064.88" font-size="6.6" font-weight="bold" text-anchor="end" fill="#000" transform="translate(474.8 1064.88) scale(1.15 1) translate(-474.8 -1064.88)">0</text>
<line x1="475.6" y1="1026.2" x2="479.1" y2="1026.2" stroke="#000" stroke-width="1.4"/>
<text x="474.8" y="1028.58" font-size="6.6" font-weight="bold" text-anchor="end" fill="#000" transform="translate(474.8 1028.58) scale(1.15 1) translate(-474.8 -1028.58)">50</text>
<line x1="475.6" y1="989.9" x2="479.1" y2="989.9" stroke="#000" stroke-width="1.4"/>
<text x="474.8" y="992.28" font-size="6.6" font-weight="bold" text-anchor="end" fill="#000" transform="translate(474.8 992.28) scale(1.15 1) translate(-474.8 -992.28)">100</text>
<line x1="475.6" y1="953.6" x2="479.1" y2="953.6" stroke="#000" stroke-width="1.4"/>
<text x="474.8" y="955.98" font-size="6.6" font-weight="bold" text-anchor="end" fill="#000" transform="translate(474.8 955.98) scale(1.15 1) translate(-474.8 -955.98)">150</text>
<line x1="495.45" y1="1062.5" x2="495.45" y2="1065.7" stroke="#000" stroke-width="1.4"/>
<line x1="528.25" y1="1062.5" x2="528.25" y2="1065.7" stroke="#000" stroke-width="1.4"/>
<line x1="560.2" y1="1062.5" x2="560.2" y2="1065.7" stroke="#000" stroke-width="1.4"/>
<line x1="593.4" y1="1062.5" x2="593.4" y2="1065.7" stroke="#000" stroke-width="1.4"/>
<line x1="625.95" y1="1062.5" x2="625.95" y2="1065.7" stroke="#000" stroke-width="1.4"/>
<text x="498.95" y="1076" font-size="8.2" font-weight="bold" text-anchor="end" transform="rotate(-45 498.95 1076)">Control 48h</text>
<text x="531.75" y="1076" font-size="8.2" font-weight="bold" text-anchor="end" transform="rotate(-45 531.75 1076)">30 µM BITC</text>
<text x="563.7" y="1076" font-size="8.2" font-weight="bold" text-anchor="end" transform="rotate(-45 563.7 1076)">30 µM CA</text>
<text x="596.9" y="1076" font-size="8.2" font-weight="bold" text-anchor="end" transform="rotate(-45 596.9 1076)">10µM CA</text>
<text x="629.45" y="1076" font-size="8.2" font-weight="bold" text-anchor="end" transform="rotate(-45 629.45 1076)">100µM CA</text>
<text x="0" y="0" font-size="7.98" font-weight="bold" fill="#000" transform="translate(455.88 1058.52) rotate(-90) scale(1 0.82)">Relative band intensity (%)</text>
<line x1="579.3" y1="1111.2" x2="641.7" y2="1111.2" stroke="#000" stroke-width="1.9"/>
<text x="0" y="0" font-size="6.25" font-weight="bold" fill="#111" transform="translate(588.31 1120.9) scale(1.156 1)">+30µM  BITC</text>
<text x="0" y="0" font-size="17.54" font-weight="bold" transform="translate(238.15 946.5) scale(0.918 1)">H</text>
<text x="0" y="0" font-size="10.48" font-weight="bold" fill="#000" transform="translate(334.43 940.3) scale(0.998 1)">24h</text>
<text x="0" y="0" font-size="10.34" font-weight="bold" fill="#000" transform="translate(541.64 940.2) scale(0.999 1)">48h</text>
<text x="0" y="0" font-size="14.69" fill="#111" transform="translate(413.93 943.45) scale(0.909 1)">ERK1/2</text>
<defs><clipPath id="brk"><rect x="60" y="0" width="83.5" height="160"/><rect x="149" y="0" width="42.5" height="160"/><rect x="196.5" y="0" width="90" height="160"/></clipPath></defs>
<path d="M71,83 L77.6,83 L89.6,83 L102,83 L114.9,83 L127.6,83 L140,83 L188.3,83 L209.5,83 L220.2,83 L231,83 L252,83 L273.4,83" fill="none" stroke="#000" stroke-width="1.9" clip-path="url(#brk)"/>
<path d="M71,115.2 L77.6,119.45 L89.6,118.37 L102,119.92 L114.9,111.82 L127.6,105.28 L140,113.04 L188.3,113.58 L209.5,115.2 L220.2,122.02 L231,124.98 L252,105.95 L273.4,103.79" fill="none" stroke="#45e3b4" stroke-width="1.6" stroke-dasharray="5 2 1.5 2" clip-path="url(#brk)"/>
<path d="M71,102.17 L77.6,99.4 L89.6,101.22 L102,103.38 L114.9,106.69 L127.6,105.48 L140,112.5 L188.3,110 L209.5,110 L220.2,116.28 L231,119.11 L252,118.71 L273.4,124.17" fill="none" stroke="#ff6a00" stroke-width="1.8" stroke-dasharray="3 2" clip-path="url(#brk)"/>
<path d="M71,91.78 L77.6,75.57 L89.6,84.35 L102,87.05 L114.9,88.06 L127.6,72.54 L140,80.64 L188.3,100.55 L209.5,92.45 L220.2,101.22 L231,106.42 L252,92.79 L273.4,94.47" fill="none" stroke="#00b400" stroke-width="1.8" stroke-dasharray="5 3" clip-path="url(#brk)"/>
<path d="M71,82.32 L77.6,74.22 L89.6,78.27 L102,74.22 L114.9,69.16 L127.6,68.15 L140,66.46 L188.3,47.22 L209.5,41.49 L220.2,42.5 L231,43.85 L252,39.12 L273.4,36.76" fill="none" stroke="#ff0000" stroke-width="1.8" stroke-dasharray="6 3.5" clip-path="url(#brk)"/>
<line x1="102" y1="115.2" x2="102" y2="124.65" stroke="#45e3b4" stroke-width="2.3"/>
<line x1="98" y1="115.2" x2="106" y2="115.2" stroke="#45e3b4" stroke-width="2.3"/>
<line x1="98" y1="124.65" x2="106" y2="124.65" stroke="#45e3b4" stroke-width="2.3"/>
<line x1="114.9" y1="107.1" x2="114.9" y2="116.55" stroke="#45e3b4" stroke-width="2.3"/>
<line x1="110.9" y1="107.1" x2="118.9" y2="107.1" stroke="#45e3b4" stroke-width="2.3"/>
<line x1="110.9" y1="116.55" x2="118.9" y2="116.55" stroke="#45e3b4" stroke-width="2.3"/>
<line x1="127.6" y1="101.22" x2="127.6" y2="109.32" stroke="#45e3b4" stroke-width="2.3"/>
<line x1="123.6" y1="101.22" x2="131.6" y2="101.22" stroke="#45e3b4" stroke-width="2.3"/>
<line x1="123.6" y1="109.32" x2="131.6" y2="109.32" stroke="#45e3b4" stroke-width="2.3"/>
<line x1="140" y1="104.26" x2="140" y2="121.81" stroke="#45e3b4" stroke-width="2.3"/>
<line x1="136" y1="104.26" x2="144" y2="104.26" stroke="#45e3b4" stroke-width="2.3"/>
<line x1="136" y1="121.81" x2="144" y2="121.81" stroke="#45e3b4" stroke-width="2.3"/>
<line x1="252" y1="98.53" x2="252" y2="113.38" stroke="#45e3b4" stroke-width="2.3"/>
<line x1="248" y1="98.53" x2="256" y2="98.53" stroke="#45e3b4" stroke-width="2.3"/>
<line x1="248" y1="113.38" x2="256" y2="113.38" stroke="#45e3b4" stroke-width="2.3"/>
<line x1="273.4" y1="97.04" x2="273.4" y2="110.54" stroke="#45e3b4" stroke-width="2.3"/>
<line x1="269.4" y1="97.04" x2="277.4" y2="97.04" stroke="#45e3b4" stroke-width="2.3"/>
<line x1="269.4" y1="110.54" x2="277.4" y2="110.54" stroke="#45e3b4" stroke-width="2.3"/>
<line x1="140" y1="108.72" x2="140" y2="116.28" stroke="#ff6a00" stroke-width="2.3"/>
<line x1="136" y1="108.72" x2="144" y2="108.72" stroke="#ff6a00" stroke-width="2.3"/>
<line x1="136" y1="116.28" x2="144" y2="116.28" stroke="#ff6a00" stroke-width="2.3"/>
<line x1="71" y1="85.7" x2="71" y2="97.85" stroke="#00b400" stroke-width="2.3"/>
<line x1="67" y1="85.7" x2="75" y2="85.7" stroke="#00b400" stroke-width="2.3"/>
<line x1="67" y1="97.85" x2="75" y2="97.85" stroke="#00b400" stroke-width="2.3"/>
<line x1="77.6" y1="73.55" x2="77.6" y2="77.6" stroke="#00b400" stroke-width="2.3"/>
<line x1="73.6" y1="73.55" x2="81.6" y2="73.55" stroke="#00b400" stroke-width="2.3"/>
<line x1="73.6" y1="77.6" x2="81.6" y2="77.6" stroke="#00b400" stroke-width="2.3"/>
<line x1="89.6" y1="77.6" x2="89.6" y2="91.1" stroke="#00b400" stroke-width="2.3"/>
<line x1="85.6" y1="77.6" x2="93.6" y2="77.6" stroke="#00b400" stroke-width="2.3"/>
<line x1="85.6" y1="91.1" x2="93.6" y2="91.1" stroke="#00b400" stroke-width="2.3"/>
<line x1="102" y1="80.44" x2="102" y2="93.66" stroke="#00b400" stroke-width="2.3"/>
<line x1="98" y1="80.44" x2="106" y2="80.44" stroke="#00b400" stroke-width="2.3"/>
<line x1="98" y1="93.66" x2="106" y2="93.66" stroke="#00b400" stroke-width="2.3"/>
<line x1="114.9" y1="81.31" x2="114.9" y2="94.81" stroke="#00b400" stroke-width="2.3"/>
<line x1="110.9" y1="81.31" x2="118.9" y2="81.31" stroke="#00b400" stroke-width="2.3"/>
<line x1="110.9" y1="94.81" x2="118.9" y2="94.81" stroke="#00b400" stroke-width="2.3"/>
<line x1="127.6" y1="62.07" x2="127.6" y2="83" stroke="#00b400" stroke-width="2.3"/>
<line x1="123.6" y1="62.07" x2="131.6" y2="62.07" stroke="#00b400" stroke-width="2.3"/>
<line x1="123.6" y1="83" x2="131.6" y2="83" stroke="#00b400" stroke-width="2.3"/>
<line x1="140" y1="72" x2="140" y2="89.28" stroke="#00b400" stroke-width="2.3"/>
<line x1="136" y1="72" x2="144" y2="72" stroke="#00b400" stroke-width="2.3"/>
<line x1="136" y1="89.28" x2="144" y2="89.28" stroke="#00b400" stroke-width="2.3"/>
<line x1="188.3" y1="96.5" x2="188.3" y2="104.6" stroke="#00b400" stroke-width="2.3"/>
<line x1="184.3" y1="96.5" x2="192.3" y2="96.5" stroke="#00b400" stroke-width="2.3"/>
<line x1="184.3" y1="104.6" x2="192.3" y2="104.6" stroke="#00b400" stroke-width="2.3"/>
<line x1="209.5" y1="88.06" x2="209.5" y2="96.84" stroke="#00b400" stroke-width="2.3"/>
<line x1="205.5" y1="88.06" x2="213.5" y2="88.06" stroke="#00b400" stroke-width="2.3"/>
<line x1="205.5" y1="96.84" x2="213.5" y2="96.84" stroke="#00b400" stroke-width="2.3"/>
<line x1="220.2" y1="99.88" x2="220.2" y2="102.57" stroke="#00b400" stroke-width="2.3"/>
<line x1="216.2" y1="99.88" x2="224.2" y2="99.88" stroke="#00b400" stroke-width="2.3"/>
<line x1="216.2" y1="102.57" x2="224.2" y2="102.57" stroke="#00b400" stroke-width="2.3"/>
<line x1="231" y1="105.07" x2="231" y2="107.77" stroke="#00b400" stroke-width="2.3"/>
<line x1="227" y1="105.07" x2="235" y2="105.07" stroke="#00b400" stroke-width="2.3"/>
<line x1="227" y1="107.77" x2="235" y2="107.77" stroke="#00b400" stroke-width="2.3"/>
<line x1="252" y1="88.74" x2="252" y2="96.84" stroke="#00b400" stroke-width="2.3"/>
<line x1="248" y1="88.74" x2="256" y2="88.74" stroke="#00b400" stroke-width="2.3"/>
<line x1="248" y1="96.84" x2="256" y2="96.84" stroke="#00b400" stroke-width="2.3"/>
<line x1="273.4" y1="92.45" x2="273.4" y2="96.5" stroke="#00b400" stroke-width="2.3"/>
<line x1="269.4" y1="92.45" x2="277.4" y2="92.45" stroke="#00b400" stroke-width="2.3"/>
<line x1="269.4" y1="96.5" x2="277.4" y2="96.5" stroke="#00b400" stroke-width="2.3"/>
<line x1="89.6" y1="73.89" x2="89.6" y2="82.66" stroke="#ff0000" stroke-width="2.3"/>
<line x1="85.6" y1="73.89" x2="93.6" y2="73.89" stroke="#ff0000" stroke-width="2.3"/>
<line x1="85.6" y1="82.66" x2="93.6" y2="82.66" stroke="#ff0000" stroke-width="2.3"/>
<line x1="127.6" y1="64.77" x2="127.6" y2="71.52" stroke="#ff0000" stroke-width="2.3"/>
<line x1="123.6" y1="64.77" x2="131.6" y2="64.77" stroke="#ff0000" stroke-width="2.3"/>
<line x1="123.6" y1="71.52" x2="131.6" y2="71.52" stroke="#ff0000" stroke-width="2.3"/>
<line x1="140" y1="61.4" x2="140" y2="71.52" stroke="#ff0000" stroke-width="2.3"/>
<line x1="136" y1="61.4" x2="144" y2="61.4" stroke="#ff0000" stroke-width="2.3"/>
<line x1="136" y1="71.52" x2="144" y2="71.52" stroke="#ff0000" stroke-width="2.3"/>
<line x1="188.3" y1="37.77" x2="188.3" y2="56.67" stroke="#ff0000" stroke-width="2.3"/>
<line x1="184.3" y1="37.77" x2="192.3" y2="37.77" stroke="#ff0000" stroke-width="2.3"/>
<line x1="184.3" y1="56.67" x2="192.3" y2="56.67" stroke="#ff0000" stroke-width="2.3"/>
<line x1="209.5" y1="29.81" x2="209.5" y2="53.17" stroke="#ff0000" stroke-width="2.3"/>
<line x1="205.5" y1="29.81" x2="213.5" y2="29.81" stroke="#ff0000" stroke-width="2.3"/>
<line x1="205.5" y1="53.17" x2="213.5" y2="53.17" stroke="#ff0000" stroke-width="2.3"/>
<line x1="220.2" y1="34.2" x2="220.2" y2="50.8" stroke="#ff0000" stroke-width="2.3"/>
<line x1="216.2" y1="34.2" x2="224.2" y2="34.2" stroke="#ff0000" stroke-width="2.3"/>
<line x1="216.2" y1="50.8" x2="224.2" y2="50.8" stroke="#ff0000" stroke-width="2.3"/>
<line x1="231" y1="36.22" x2="231" y2="51.48" stroke="#ff0000" stroke-width="2.3"/>
<line x1="227" y1="36.22" x2="235" y2="36.22" stroke="#ff0000" stroke-width="2.3"/>
<line x1="227" y1="51.48" x2="235" y2="51.48" stroke="#ff0000" stroke-width="2.3"/>
<line x1="252" y1="29.67" x2="252" y2="48.57" stroke="#ff0000" stroke-width="2.3"/>
<line x1="248" y1="29.67" x2="256" y2="29.67" stroke="#ff0000" stroke-width="2.3"/>
<line x1="248" y1="48.57" x2="256" y2="48.57" stroke="#ff0000" stroke-width="2.3"/>
<line x1="273.4" y1="26.64" x2="273.4" y2="46.89" stroke="#ff0000" stroke-width="2.3"/>
<line x1="269.4" y1="26.64" x2="277.4" y2="26.64" stroke="#ff0000" stroke-width="2.3"/>
<line x1="269.4" y1="46.89" x2="277.4" y2="46.89" stroke="#ff0000" stroke-width="2.3"/>
<line x1="252" y1="79.29" x2="252" y2="86.71" stroke="#000" stroke-width="2.3"/>
<line x1="248" y1="79.29" x2="256" y2="79.29" stroke="#000" stroke-width="2.3"/>
<line x1="248" y1="86.71" x2="256" y2="86.71" stroke="#000" stroke-width="2.3"/>
<line x1="273.4" y1="79.29" x2="273.4" y2="86.71" stroke="#000" stroke-width="2.3"/>
<line x1="269.4" y1="79.29" x2="277.4" y2="79.29" stroke="#000" stroke-width="2.3"/>
<line x1="269.4" y1="86.71" x2="277.4" y2="86.71" stroke="#000" stroke-width="2.3"/>
<circle cx="71" cy="83" r="2.8" fill="#000"/>
<circle cx="77.6" cy="83" r="2.8" fill="#000"/>
<circle cx="89.6" cy="83" r="2.8" fill="#000"/>
<circle cx="102" cy="83" r="2.8" fill="#000"/>
<circle cx="114.9" cy="83" r="2.8" fill="#000"/>
<circle cx="127.6" cy="83" r="2.8" fill="#000"/>
<circle cx="140" cy="83" r="2.8" fill="#000"/>
<circle cx="188.3" cy="83" r="2.8" fill="#000"/>
<circle cx="209.5" cy="83" r="2.8" fill="#000"/>
<circle cx="220.2" cy="83" r="2.8" fill="#000"/>
<circle cx="231" cy="83" r="2.8" fill="#000"/>
<circle cx="252" cy="83" r="2.8" fill="#000"/>
<circle cx="273.4" cy="83" r="2.8" fill="#000"/>
<polygon points="71,119.4 75.2,112.05 66.8,112.05" fill="#45e3b4"/>
<polygon points="77.6,123.65 81.8,116.3 73.4,116.3" fill="#45e3b4"/>
<polygon points="89.6,122.57 93.8,115.22 85.4,115.22" fill="#45e3b4"/>
<polygon points="102,124.12 106.2,116.77 97.8,116.77" fill="#45e3b4"/>
<polygon points="114.9,116.02 119.1,108.67 110.7,108.67" fill="#45e3b4"/>
<polygon points="127.6,109.48 131.8,102.12 123.4,102.12" fill="#45e3b4"/>
<polygon points="140,117.24 144.2,109.89 135.8,109.89" fill="#45e3b4"/>
<polygon points="188.3,117.78 192.5,110.43 184.1,110.43" fill="#45e3b4"/>
<polygon points="209.5,119.4 213.7,112.05 205.3,112.05" fill="#45e3b4"/>
<polygon points="220.2,126.22 224.4,118.86 216,118.86" fill="#45e3b4"/>
<polygon points="231,129.19 235.2,121.83 226.8,121.83" fill="#45e3b4"/>
<polygon points="252,110.15 256.2,102.8 247.8,102.8" fill="#45e3b4"/>
<polygon points="273.4,107.99 277.6,100.64 269.2,100.64" fill="#45e3b4"/>
<polygon points="71,98.17 75,102.17 71,106.17 67,102.17" fill="#ff6a00"/>
<polygon points="77.6,95.4 81.6,99.4 77.6,103.4 73.6,99.4" fill="#ff6a00"/>
<polygon points="89.6,97.22 93.6,101.22 89.6,105.22 85.6,101.22" fill="#ff6a00"/>
<polygon points="102,99.38 106,103.38 102,107.38 98,103.38" fill="#ff6a00"/>
<polygon points="114.9,102.69 118.9,106.69 114.9,110.69 110.9,106.69" fill="#ff6a00"/>
<polygon points="127.6,101.48 131.6,105.48 127.6,109.48 123.6,105.48" fill="#ff6a00"/>
<polygon points="140,108.5 144,112.5 140,116.5 136,112.5" fill="#ff6a00"/>
<polygon points="188.3,106 192.3,110 188.3,114 184.3,110" fill="#ff6a00"/>
<polygon points="209.5,106 213.5,110 209.5,114 205.5,110" fill="#ff6a00"/>
<polygon points="220.2,112.28 224.2,116.28 220.2,120.28 216.2,116.28" fill="#ff6a00"/>
<polygon points="231,115.11 235,119.11 231,123.11 227,119.11" fill="#ff6a00"/>
<polygon points="252,114.71 256,118.71 252,122.71 248,118.71" fill="#ff6a00"/>
<polygon points="273.4,120.17 277.4,124.17 273.4,128.18 269.4,124.17" fill="#ff6a00"/>
<polygon points="71,78.12 75.2,85.47 66.8,85.47" fill="#ff0000"/>
<polygon points="77.6,70.02 81.8,77.38 73.4,77.38" fill="#ff0000"/>
<polygon points="89.6,74.07 93.8,81.42 85.4,81.42" fill="#ff0000"/>
<polygon points="102,70.02 106.2,77.38 97.8,77.38" fill="#ff0000"/>
<polygon points="114.9,64.96 119.1,72.31 110.7,72.31" fill="#ff0000"/>
<polygon points="127.6,63.95 131.8,71.3 123.4,71.3" fill="#ff0000"/>
<polygon points="140,62.26 144.2,69.61 135.8,69.61" fill="#ff0000"/>
<polygon points="188.3,43.02 192.5,50.37 184.1,50.37" fill="#ff0000"/>
<polygon points="209.5,37.29 213.7,44.64 205.3,44.64" fill="#ff0000"/>
<polygon points="220.2,38.3 224.4,45.65 216,45.65" fill="#ff0000"/>
<polygon points="231,39.65 235.2,47 226.8,47" fill="#ff0000"/>
<polygon points="252,34.92 256.2,42.27 247.8,42.27" fill="#ff0000"/>
<polygon points="273.4,32.56 277.6,39.91 269.2,39.91" fill="#ff0000"/>
<circle cx="71" cy="91.78" r="3.3" fill="none" stroke="#00b400" stroke-width="1.7"/>
<circle cx="77.6" cy="75.57" r="3.3" fill="none" stroke="#00b400" stroke-width="1.7"/>
<circle cx="89.6" cy="84.35" r="3.3" fill="none" stroke="#00b400" stroke-width="1.7"/>
<circle cx="102" cy="87.05" r="3.3" fill="none" stroke="#00b400" stroke-width="1.7"/>
<circle cx="114.9" cy="88.06" r="3.3" fill="none" stroke="#00b400" stroke-width="1.7"/>
<circle cx="127.6" cy="72.54" r="3.3" fill="none" stroke="#00b400" stroke-width="1.7"/>
<circle cx="140" cy="80.64" r="3.3" fill="none" stroke="#00b400" stroke-width="1.7"/>
<circle cx="188.3" cy="100.55" r="3.3" fill="none" stroke="#00b400" stroke-width="1.7"/>
<circle cx="209.5" cy="92.45" r="3.3" fill="none" stroke="#00b400" stroke-width="1.7"/>
<circle cx="220.2" cy="101.22" r="3.3" fill="none" stroke="#00b400" stroke-width="1.7"/>
<circle cx="231" cy="106.42" r="3.3" fill="none" stroke="#00b400" stroke-width="1.7"/>
<circle cx="252" cy="92.79" r="3.3" fill="none" stroke="#00b400" stroke-width="1.7"/>
<circle cx="273.4" cy="94.47" r="3.3" fill="none" stroke="#00b400" stroke-width="1.7"/>
<text x="187.5" y="33.75" font-size="10.5" font-weight="bold" text-anchor="middle" fill="#ff0000">***</text>
<text x="209.4" y="25.16" font-size="10.5" font-weight="bold" text-anchor="middle" fill="#ff0000">***</text>
<text x="222.6" y="31.96" font-size="10.5" font-weight="bold" text-anchor="middle" fill="#ff0000">***</text>
<text x="232.7" y="37.36" font-size="10.5" font-weight="bold" text-anchor="middle" fill="#ff0000">***</text>
<text x="252.3" y="26.36" font-size="10.5" font-weight="bold" text-anchor="middle" fill="#ff0000">***</text>
<text x="273" y="24.25" font-size="10.5" font-weight="bold" text-anchor="middle" fill="#ff0000">***</text>
<text x="102" y="133.95" font-size="10.5" font-weight="bold" text-anchor="middle" fill="#ff6a00">*</text>
<text x="114.9" y="125.45" font-size="10.5" font-weight="bold" text-anchor="middle" fill="#ff6a00">**</text>
<text x="126.5" y="120.26" font-size="10.5" font-weight="bold" text-anchor="middle" fill="#ff6a00">*</text>
<text x="140.1" y="132.25" font-size="10.5" font-weight="bold" text-anchor="middle" fill="#ff6a00">***</text>
<text x="188.6" y="126.26" font-size="10.5" font-weight="bold" text-anchor="middle" fill="#ff6a00">**</text>
<text x="206.8" y="128.45" font-size="10.5" font-weight="bold" text-anchor="middle" fill="#ff6a00">**</text>
<text x="218.4" y="135.85" font-size="10.5" font-weight="bold" text-anchor="middle" fill="#ff6a00">***</text>
<text x="233.7" y="137.16" font-size="10.5" font-weight="bold" text-anchor="middle" fill="#ff6a00">***</text>
<text x="252.8" y="132.16" font-size="10.5" font-weight="bold" text-anchor="middle" fill="#ff6a00">***</text>
<text x="272.9" y="138.25" font-size="10.5" font-weight="bold" text-anchor="middle" fill="#ff6a00">***</text>
<text x="71.8" y="135.16" font-size="10.5" font-weight="bold" text-anchor="middle" fill="#45e3b4">***</text>
<text x="78.4" y="143.85" font-size="10.5" font-weight="bold" text-anchor="middle" fill="#45e3b4">***</text>
<text x="88.3" y="130.75" font-size="10.5" font-weight="bold" text-anchor="middle" fill="#45e3b4">***</text>
<text x="101" y="141.25" font-size="10.5" font-weight="bold" text-anchor="middle" fill="#45e3b4">***</text>
<text x="114.1" y="132.25" font-size="10.5" font-weight="bold" text-anchor="middle" fill="#45e3b4">**</text>
<text x="126.5" y="128.45" font-size="10.5" font-weight="bold" text-anchor="middle" fill="#45e3b4">*</text>
<text x="140.1" y="138.05" font-size="10.5" font-weight="bold" text-anchor="middle" fill="#45e3b4">***</text>
<text x="189.3" y="135.35" font-size="10.5" font-weight="bold" text-anchor="middle" fill="#45e3b4">***</text>
<text x="205.3" y="134.35" font-size="10.5" font-weight="bold" text-anchor="middle" fill="#45e3b4">***</text>
<text x="216.2" y="140.85" font-size="10.5" font-weight="bold" text-anchor="middle" fill="#45e3b4">***</text>
<text x="234.6" y="144.16" font-size="10.5" font-weight="bold" text-anchor="middle" fill="#45e3b4">***</text>
<text x="252.8" y="138.75" font-size="10.5" font-weight="bold" text-anchor="middle" fill="#45e3b4">*</text>
<text x="272.9" y="143.55" font-size="10.5" font-weight="bold" text-anchor="middle" fill="#45e3b4">*</text>
<text x="230.9" y="100.36" font-size="10.5" font-weight="bold" text-anchor="middle" fill="#00b400">**</text>
<line x1="65.3" y1="151.3" x2="65.3" y2="15.5" stroke="#000" stroke-width="1.6"/>
<line x1="60.8" y1="150.5" x2="65.3" y2="150.5" stroke="#000" stroke-width="1.6"/>
<text x="59.8" y="153.92" font-size="9.5" font-weight="bold" text-anchor="end" fill="#000">0</text>
<line x1="60.8" y1="116.75" x2="65.3" y2="116.75" stroke="#000" stroke-width="1.6"/>
<text x="59.8" y="120.17" font-size="9.5" font-weight="bold" text-anchor="end" fill="#000">50</text>
<line x1="60.8" y1="83" x2="65.3" y2="83" stroke="#000" stroke-width="1.6"/>
<text x="59.8" y="86.42" font-size="9.5" font-weight="bold" text-anchor="end" fill="#000">100</text>
<line x1="60.8" y1="49.25" x2="65.3" y2="49.25" stroke="#000" stroke-width="1.6"/>
<text x="59.8" y="52.67" font-size="9.5" font-weight="bold" text-anchor="end" fill="#000">150</text>
<line x1="60.8" y1="15.5" x2="65.3" y2="15.5" stroke="#000" stroke-width="1.6"/>
<text x="59.8" y="18.92" font-size="9.5" font-weight="bold" text-anchor="end" fill="#000">200</text>
<line x1="64.5" y1="150.5" x2="140.4" y2="150.5" stroke="#000" stroke-width="1.6"/>
<line x1="150.9" y1="150.5" x2="188.4" y2="150.5" stroke="#000" stroke-width="1.6"/>
<line x1="198.9" y1="150.5" x2="274.2" y2="150.5" stroke="#000" stroke-width="1.6"/>
<line x1="65.2" y1="150.5" x2="65.2" y2="154" stroke="#000" stroke-width="1.6"/>
<line x1="77.6" y1="150.5" x2="77.6" y2="154" stroke="#000" stroke-width="1.6"/>
<line x1="89.6" y1="150.5" x2="89.6" y2="154" stroke="#000" stroke-width="1.6"/>
<line x1="102" y1="150.5" x2="102" y2="154" stroke="#000" stroke-width="1.6"/>
<line x1="114.9" y1="150.5" x2="114.9" y2="154" stroke="#000" stroke-width="1.6"/>
<line x1="127.6" y1="150.5" x2="127.6" y2="154" stroke="#000" stroke-width="1.6"/>
<line x1="140" y1="150.5" x2="140" y2="154" stroke="#000" stroke-width="1.6"/>
<line x1="150.9" y1="150.5" x2="150.9" y2="154" stroke="#000" stroke-width="1.6"/>
<line x1="156.9" y1="150.5" x2="156.9" y2="154" stroke="#000" stroke-width="1.6"/>
<line x1="170.9" y1="150.5" x2="170.9" y2="154" stroke="#000" stroke-width="1.6"/>
<line x1="184.2" y1="150.5" x2="184.2" y2="154" stroke="#000" stroke-width="1.6"/>
<line x1="188.4" y1="150.5" x2="188.4" y2="154" stroke="#000" stroke-width="1.6"/>
<line x1="198.9" y1="150.5" x2="198.9" y2="154" stroke="#000" stroke-width="1.6"/>
<line x1="209.4" y1="150.5" x2="209.4" y2="154" stroke="#000" stroke-width="1.6"/>
<line x1="230.4" y1="150.5" x2="230.4" y2="154" stroke="#000" stroke-width="1.6"/>
<line x1="252.2" y1="150.5" x2="252.2" y2="154" stroke="#000" stroke-width="1.6"/>
<line x1="273.6" y1="150.5" x2="273.6" y2="154" stroke="#000" stroke-width="1.6"/>
<text x="64.7" y="165.12" font-size="9.5" font-weight="bold" text-anchor="middle" fill="#000">0</text>
<text x="77.3" y="165.12" font-size="9.5" font-weight="bold" text-anchor="middle" fill="#000">1</text>
<text x="89.6" y="165.12" font-size="9.5" font-weight="bold" text-anchor="middle" fill="#000">2</text>
<text x="101.9" y="165.12" font-size="9.5" font-weight="bold" text-anchor="middle" fill="#000">3</text>
<text x="114.5" y="165.12" font-size="9.5" font-weight="bold" text-anchor="middle" fill="#000">4</text>
<text x="127.1" y="165.12" font-size="9.5" font-weight="bold" text-anchor="middle" fill="#000">5</text>
<text x="139.7" y="165.12" font-size="9.5" font-weight="bold" text-anchor="middle" fill="#000">6</text>
<text x="156.9" y="165.12" font-size="9.5" font-weight="bold" text-anchor="middle" fill="#000">8</text>
<text x="170.9" y="165.12" font-size="9.5" font-weight="bold" text-anchor="middle" fill="#000">12</text>
<text x="184.2" y="165.12" font-size="9.5" font-weight="bold" text-anchor="middle" fill="#000">16</text>
<text x="209.4" y="165.12" font-size="9.5" font-weight="bold" text-anchor="middle" fill="#000">18</text>
<text x="230.4" y="165.12" font-size="9.5" font-weight="bold" text-anchor="middle" fill="#000">20</text>
<text x="252.2" y="165.12" font-size="9.5" font-weight="bold" text-anchor="middle" fill="#000">22</text>
<text x="273.2" y="165.12" font-size="9.5" font-weight="bold" text-anchor="middle" fill="#000">24</text>
<text x="0" y="0" font-size="9.09" font-weight="bold" fill="#000" transform="translate(135.39 179.09) scale(1.194 1)">Tim e (Hours)</text>
<text x="36.4" y="82" font-size="11" font-weight="bold" text-anchor="middle" transform="rotate(-90 36.4 82)">Relative oxidative stress (%)</text>
<text x="0" y="0" font-size="20.43" font-weight="bold" stroke="#000" stroke-width="0.5" transform="translate(1.28 24.6) scale(1.015 1)">A</text>
<line x1="303.5" y1="25.7" x2="318" y2="25.7" stroke="#000" stroke-width="1.8"/>
<circle cx="310.8" cy="25.7" r="2.9" fill="#000"/>
<line x1="303.5" y1="36.4" x2="318" y2="36.4" stroke="#ff0000" stroke-width="1.8" stroke-dasharray="5 2"/>
<polygon points="310.8,33 314.2,38.95 307.4,38.95" fill="#ff0000"/>
<line x1="303.5" y1="49.7" x2="318" y2="49.7" stroke="#ff6a00" stroke-width="1.8" stroke-dasharray="1.5 2"/>
<polygon points="311.4,46.4 314.7,49.7 311.4,53 308.1,49.7" fill="#ff6a00"/>
<line x1="303.5" y1="63.7" x2="318" y2="63.7" stroke="#00b400" stroke-width="1.8" stroke-dasharray="4 2"/>
<circle cx="312.3" cy="63.7" r="3.0" fill="none" stroke="#00b400" stroke-width="1.8"/>
<line x1="303.5" y1="78.6" x2="318" y2="78.6" stroke="#45e3b4" stroke-width="1.8" stroke-dasharray="4 2"/>
<polygon points="311.4,82.4 315.2,75.75 307.6,75.75" fill="#45e3b4"/>
<text x="0" y="0" font-size="10.03" fill="#222" transform="translate(324.95 29.2) scale(1.074 1)">Vehicle</text>
<text x="0" y="0" font-size="10.32" fill="#222" transform="translate(324.58 39.8) scale(1.021 1)">30 µM  BITC</text>
<text x="0" y="0" font-size="10.03" fill="#222" transform="translate(325.39 53.3) scale(1.025 1)">30 µM  CA</text>
<text x="0" y="0" font-size="10.17" fill="#222" transform="translate(325.51 67.2) scale(1.034 1)">10µM  CA + 30µM  BITC</text>
<text x="0" y="0" font-size="10.32" fill="#222" transform="translate(325.54 82.4) scale(0.982 1)">100µM CA + 30µM BITC</text>
<defs><filter id="bl1" x="-20%" y="-50%" width="140%" height="200%"><feGaussianBlur stdDeviation="1.25"/></filter><filter id="bl2" x="-20%" y="-50%" width="140%" height="200%"><feGaussianBlur stdDeviation="0.8"/></filter><filter id="bl3" x="-20%" y="-50%" width="140%" height="200%"><feGaussianBlur stdDeviation="1.7"/></filter></defs>
<text x="0" y="0" font-size="5.93" font-weight="bold" fill="#1a1a1a" transform="translate(29.86 233.8) scale(1.168 1)">24 h</text>
<text x="75.8" y="234.3" font-size="7.3" text-anchor="middle" fill="#222">1</text>
<text x="93.5" y="234.3" font-size="7.3" text-anchor="middle" fill="#222">2</text>
<text x="116.3" y="234.3" font-size="7.3" text-anchor="middle" fill="#222">3</text>
<text x="133.1" y="234.3" font-size="7.3" text-anchor="middle" fill="#222">4</text>
<text x="150.7" y="234.3" font-size="7.3" text-anchor="middle" fill="#222">5</text>
<text x="0" y="0" font-size="6.29" font-weight="bold" fill="#1a1a1a" transform="translate(26.04 245.8) scale(1.120 1)">NRF-2</text>
<text x="0" y="0" font-size="6.04" font-weight="bold" fill="#1a1a1a" transform="translate(30.64 266.73) scale(1.171 1)">p38</text>
<text x="0" y="0" font-size="5.78" font-weight="bold" fill="#1a1a1a" transform="translate(26.95 288.39) scale(1.204 1)">pERK</text>
<text x="0" y="0" font-size="6.44" font-weight="bold" fill="#1a1a1a" transform="translate(24.34 310.07) scale(1.093 1)">ERK1/2</text>
<text x="0" y="0" font-size="6.52" font-weight="bold" fill="#1a1a1a" transform="translate(24.9 330.63) scale(1.101 1)">β-actin</text>
<text x="0" y="0" font-size="6.53" fill="#262626" transform="translate(172.92 245.73) scale(1.063 1)">35 kDa</text>
<text x="0" y="0" font-size="6.39" fill="#262626" transform="translate(172.92 267.14) scale(1.086 1)">53 kDa</text>
<text x="0" y="0" font-size="6.12" fill="#262626" transform="translate(173.03 288.74) scale(1.129 1)">42 kDa</text>
<text x="0" y="0" font-size="6.67" fill="#262626" transform="translate(172.92 310.13) scale(1.042 1)">51 kDa</text>
<text x="0" y="0" font-size="6.53" fill="#262626" transform="translate(172.92 331.53) scale(1.063 1)">53 kDa</text>
<clipPath id="cs1"><rect x="61.2" y="239.2" width="100.4" height="19.5"/></clipPath>
<defs><linearGradient id="gcs1" x1="0" y1="0" x2="0" y2="1"><stop offset="0" stop-color="#c8c8c8"/><stop offset="1" stop-color="#dadada"/></linearGradient></defs>
<rect x="61.2" y="239.2" width="100.4" height="19.5" fill="url(#gcs1)"/>
<g clip-path="url(#cs1)"><g filter="url(#bl3)">
<rect x="62.6" y="242.2" width="19.3" height="9.9" rx="3.96" fill="#0e0e0e"/>
<rect x="84.4" y="241.8" width="16.4" height="10.7" rx="4.28" fill="#0e0e0e"/>
<rect x="103.8" y="244.5" width="16.8" height="9.3" rx="3.72" fill="#0e0e0e"/>
<rect x="123.1" y="244.8" width="18.4" height="10.3" rx="4.12" fill="#0e0e0e"/>
<rect x="143.2" y="246.4" width="17.6" height="9.6" rx="3.84" fill="#0e0e0e"/>
</g></g>
<clipPath id="cs2"><rect x="61.2" y="260.9" width="100.4" height="17.8"/></clipPath>
<rect x="61.2" y="260.9" width="100.4" height="17.8" fill="#d6d6d6"/>
<g clip-path="url(#cs2)"><g filter="url(#bl1)">
<path d="M61.8,262.5 Q61.8,261 63.3,261 Q66.11,263.8 69.64,264.5 L79.4,264.5 Q81.4,264.5 81.4,266.5 L81.4,273 Q81.4,275 79.4,275 L63.8,275 Q61.8,275 61.8,273 Z" fill="#080808"/>
<path d="M83.8,264.2 Q83.8,262.7 85.3,262.7 Q87.76,264.7 91,265.2 L99.8,265.2 Q101.8,265.2 101.8,267.2 L101.8,274 Q101.8,276 99.8,276 L85.8,276 Q83.8,276 83.8,274 Z" fill="#101010"/>
<path d="M103.2,263.7 Q103.2,262.2 104.7,262.2 Q107.29,264.6 110.64,265.2 L119.8,265.2 Q121.8,265.2 121.8,267.2 L121.8,274.2 Q121.8,276.2 119.8,276.2 L105.2,276.2 Q103.2,276.2 103.2,274.2 Z" fill="#0a0a0a"/>
<path d="M123.2,265 Q123.2,263.5 124.7,263.5 Q127.29,265.5 130.64,266 L139.8,266 Q141.8,266 141.8,268 L141.8,275 Q141.8,277 139.8,277 L125.2,277 Q123.2,277 123.2,275 Z" fill="#0c0c0c"/>
<path d="M143.2,265.2 Q143.2,263.7 144.7,263.7 Q147.12,265.7 150.32,266.2 L159,266.2 Q161,266.2 161,268.2 L161,275.4 Q161,277.4 159,277.4 L145.2,277.4 Q143.2,277.4 143.2,275.4 Z" fill="#0c0c0c"/>
</g></g>
<clipPath id="cs3"><rect x="61.2" y="282.1" width="100.4" height="12.6"/></clipPath>
<rect x="61.2" y="282.1" width="100.4" height="12.6" fill="#cecece"/>
<g clip-path="url(#cs3)"><g filter="url(#bl2)">
<rect x="65.5" y="283.2" width="13.5" height="5.4" rx="2.16" fill="#2e2e2e"/>
<rect x="86.5" y="284" width="13.5" height="5.8" rx="2.32" fill="#5c5c5c"/>
<rect x="105.5" y="283.8" width="13.5" height="5.8" rx="2.32" fill="#505050"/>
<rect x="125" y="283" width="15.5" height="3" rx="1.2" fill="#4a4a4a"/>
<rect x="125" y="287" width="15.5" height="4.8" rx="1.92" fill="#3a3a3a"/>
<rect x="145" y="283.2" width="14.5" height="2.8" rx="1.12" fill="#555"/>
<rect x="145" y="287.2" width="14.5" height="4.6" rx="1.84" fill="#474747"/>
</g></g>
<clipPath id="cs4"><rect x="61.2" y="303.4" width="100.4" height="16.8"/></clipPath>
<rect x="61.2" y="303.4" width="100.4" height="16.8" fill="#dadada"/>
<g clip-path="url(#cs4)"><g filter="url(#bl2)">
<rect x="64" y="307" width="16.5" height="3.2" rx="1.28" fill="#8e8e8e"/>
<rect x="64" y="313.2" width="16.5" height="3.6" rx="1.44" fill="#a2a2a2"/>
<rect x="85" y="307.2" width="15.5" height="3.2" rx="1.28" fill="#828282"/>
<rect x="85" y="313.4" width="15.5" height="3.4" rx="1.36" fill="#a6a6a6"/>
<rect x="104.5" y="307.2" width="16" height="3.2" rx="1.28" fill="#888"/>
<rect x="104.5" y="313.4" width="16" height="3.4" rx="1.36" fill="#a2a2a2"/>
<rect x="124.5" y="308" width="16.5" height="3" rx="1.2" fill="#8a8a8a"/>
<rect x="124.5" y="313.6" width="16.5" height="3.4" rx="1.36" fill="#8c8c8c"/>
<rect x="144" y="308" width="16.5" height="3" rx="1.2" fill="#8a8a8a"/>
<rect x="144" y="313.8" width="16.5" height="3.4" rx="1.36" fill="#868686"/>
</g></g>
<clipPath id="cs5"><rect x="61.2" y="325.2" width="100.4" height="17.6"/></clipPath>
<rect x="61.2" y="325.2" width="100.4" height="17.6" fill="#dcdcdc"/>
<g clip-path="url(#cs5)"><g filter="url(#bl1)">
<path d="M61.8,327.1 Q61.8,325.6 63.3,325.6 Q66.16,328 69.72,328.6 L79.6,328.6 Q81.6,328.6 81.6,330.6 L81.6,337.4 Q81.6,339.4 79.6,339.4 L63.8,339.4 Q61.8,339.4 61.8,337.4 Z" fill="#0a0a0a"/>
<path d="M83.6,328.5 Q83.6,327 85.1,327 Q87.6,328.6 90.88,329 L99.8,329 Q101.8,329 101.8,331 L101.8,337.8 Q101.8,339.8 99.8,339.8 L85.6,339.8 Q83.6,339.8 83.6,337.8 Z" fill="#121212"/>
<path d="M103.2,328 Q103.2,326.5 104.7,326.5 Q107.34,328.5 110.72,329 L120,329 Q122,329 122,331 L122,337.8 Q122,339.8 120,339.8 L105.2,339.8 Q103.2,339.8 103.2,337.8 Z" fill="#121212"/>
<path d="M123.2,329 Q123.2,327.5 124.7,327.5 Q127.34,329.5 130.72,330 L140,330 Q142,330 142,332 L142,339 Q142,341 140,341 L125.2,341 Q123.2,341 123.2,339 Z" fill="#0e0e0e"/>
<path d="M143,329.6 Q143,328.1 144.5,328.1 Q147.05,330.1 150.36,330.6 L159.4,330.6 Q161.4,330.6 161.4,332.6 L161.4,339.2 Q161.4,341.2 159.4,341.2 L145,341.2 Q143,341.2 143,339.2 Z" fill="#0e0e0e"/>
</g></g>
<defs><linearGradient id="tg24" x1="0" y1="0" x2="0" y2="1"><stop offset="0.000" stop-color="#cecece"/><stop offset="0.011" stop-color="#cccccc"/><stop offset="0.022" stop-color="#c9c9c9"/><stop offset="0.033" stop-color="#c7c7c7"/><stop offset="0.044" stop-color="#c4c4c4"/><stop offset="0.056" stop-color="#bbbbbb"/><stop offset="0.067" stop-color="#c6c6c6"/><stop offset="0.078" stop-color="#c2c2c2"/><stop offset="0.089" stop-color="#b4b4b4"/><stop offset="0.100" stop-color="#b3b3b3"/><stop offset="0.111" stop-color="#adadad"/><stop offset="0.122" stop-color="#acacac"/><stop offset="0.133" stop-color="#969696"/><stop offset="0.144" stop-color="#616161"/><stop offset="0.156" stop-color="#393939"/><stop offset="0.167" stop-color="#666666"/><stop offset="0.178" stop-color="#898989"/><stop offset="0.189" stop-color="#8b8b8b"/><stop offset="0.200" stop-color="#777777"/><stop offset="0.211" stop-color="#7a7a7a"/><stop offset="0.222" stop-color="#797979"/><stop offset="0.233" stop-color="#686868"/><stop offset="0.244" stop-color="#6f6f6f"/><stop offset="0.256" stop-color="#787878"/><stop offset="0.267" stop-color="#717171"/><stop offset="0.278" stop-color="#787878"/><stop offset="0.289" stop-color="#7b7b7b"/><stop offset="0.300" stop-color="#7d7d7d"/><stop offset="0.311" stop-color="#6b6b6b"/><stop offset="0.322" stop-color="#666666"/><stop offset="0.333" stop-color="#6e6e6e"/><stop offset="0.344" stop-color="#6b6b6b"/><stop offset="0.356" stop-color="#737373"/><stop offset="0.367" stop-color="#757575"/><stop offset="0.378" stop-color="#727272"/><stop offset="0.389" stop-color="#686868"/><stop offset="0.400" stop-color="#646464"/><stop offset="0.411" stop-color="#676767"/><stop offset="0.422" stop-color="#6f6f6f"/><stop offset="0.433" stop-color="#6e6e6e"/><stop offset="0.444" stop-color="#686868"/><stop offset="0.456" stop-color="#6f6f6f"/><stop offset="0.467" stop-color="#616161"/><stop offset="0.478" stop-color="#5a5a5a"/><stop offset="0.489" stop-color="#484848"/><stop offset="0.500" stop-color="#4e4e4e"/><stop offset="0.511" stop-color="#424242"/><stop offset="0.522" stop-color="#353535"/><stop offset="0.533" stop-color="#3d3d3d"/><stop offset="0.544" stop-color="#494949"/><stop offset="0.556" stop-color="#555555"/><stop offset="0.567" stop-color="#666666"/><stop offset="0.578" stop-color="#666666"/><stop offset="0.589" stop-color="#757575"/><stop offset="0.600" stop-color="#787878"/><stop offset="0.611" stop-color="#777777"/><stop offset="0.622" stop-color="#818181"/><stop offset="0.633" stop-color="#898989"/><stop offset="0.644" stop-color="#8b8b8b"/><stop offset="0.656" stop-color="#868686"/><stop offset="0.667" stop-color="#7b7b7b"/><stop offset="0.678" stop-color="#626262"/><stop offset="0.689" stop-color="#595959"/><stop offset="0.700" stop-color="#575757"/><stop offset="0.711" stop-color="#434343"/><stop offset="0.722" stop-color="#323232"/><stop offset="0.733" stop-color="#4d4d4d"/><stop offset="0.744" stop-color="#676767"/><stop offset="0.756" stop-color="#7b7b7b"/><stop offset="0.767" stop-color="#7d7d7d"/><stop offset="0.778" stop-color="#878787"/><stop offset="0.789" stop-color="#919191"/><stop offset="0.800" stop-color="#9f9f9f"/><stop offset="0.811" stop-color="#9c9c9c"/><stop offset="0.822" stop-color="#9b9b9b"/><stop offset="0.833" stop-color="#9e9e9e"/><stop offset="0.844" stop-color="#979797"/><stop offset="0.856" stop-color="#979797"/><stop offset="0.867" stop-color="#9e9e9e"/><stop offset="0.878" stop-color="#9f9f9f"/><stop offset="0.889" stop-color="#919191"/><stop offset="0.900" stop-color="#919191"/><stop offset="0.911" stop-color="#969696"/><stop offset="0.922" stop-color="#a6a6a6"/><stop offset="0.933" stop-color="#b5b5b5"/><stop offset="0.944" stop-color="#b5b5b5"/><stop offset="0.956" stop-color="#b4b4b4"/><stop offset="0.967" stop-color="#b8b8b8"/><stop offset="0.978" stop-color="#bcbcbc"/><stop offset="0.989" stop-color="#c1c1c1"/><stop offset="1.000" stop-color="#c4c4c4"/></linearGradient></defs>
<rect x="58" y="347.2" width="100.5" height="97.19999999999999" fill="#d4d4d4"/>
<g filter="url(#bl2)">
<rect x="60.3" y="348.2" width="16.6" height="95.19999999999999" fill="url(#tg24)" rx="3"/>
<rect x="79.7" y="348.2" width="16.6" height="95.19999999999999" fill="url(#tg24)" rx="3"/>
<rect x="100.2" y="348.2" width="16.6" height="95.19999999999999" fill="url(#tg24)" rx="3"/>
<rect x="119.60000000000001" y="348.2" width="16.6" height="95.19999999999999" fill="url(#tg24)" rx="3"/>
<rect x="139.0" y="348.2" width="16.6" height="95.19999999999999" fill="url(#tg24)" rx="3"/>
</g>
<text x="0" y="0" font-size="6.53" font-weight="bold" fill="#1a1a1a" transform="translate(21.98 517.73) scale(1.273 1)">48 h</text>
<text x="74.3" y="518.6" font-size="8.9" text-anchor="middle" fill="#222">1</text>
<text x="94.6" y="518.6" font-size="8.9" text-anchor="middle" fill="#222">2</text>
<text x="120.5" y="518.6" font-size="8.9" text-anchor="middle" fill="#222">3</text>
<text x="139.6" y="518.6" font-size="8.9" text-anchor="middle" fill="#222">4</text>
<text x="159.7" y="518.6" font-size="8.9" text-anchor="middle" fill="#222">5</text>
<text x="0" y="0" font-size="7.43" font-weight="bold" fill="#1a1a1a" transform="translate(18.27 531.8) scale(1.095 1)">NRF-2</text>
<text x="0" y="0" font-size="6.48" font-weight="bold" fill="#1a1a1a" transform="translate(23.08 556.14) scale(1.243 1)">p38</text>
<text x="0" y="0" font-size="6.56" font-weight="bold" fill="#1a1a1a" transform="translate(19.28 580.82) scale(1.228 1)">pERK</text>
<text x="0" y="0" font-size="7.52" font-weight="bold" fill="#1a1a1a" transform="translate(15.97 605.45) scale(1.078 1)">ERK1/2</text>
<text x="0" y="0" font-size="6.95" font-weight="bold" fill="#1a1a1a" transform="translate(16.63 629.74) scale(1.171 1)">β-actin</text>
<text x="0" y="0" font-size="7.76" fill="#262626" transform="translate(186.78 532.22) scale(1.019 1)">35 kDa</text>
<text x="0" y="0" font-size="7.76" fill="#262626" transform="translate(186.78 556.42) scale(1.019 1)">53 kDa</text>
<text x="0" y="0" font-size="7.35" fill="#262626" transform="translate(186.9 580.93) scale(1.071 1)">42 kDa</text>
<text x="0" y="0" font-size="7.48" fill="#262626" transform="translate(186.78 605.73) scale(1.056 1)">51 kDa</text>
<text x="0" y="0" font-size="7.89" fill="#262626" transform="translate(186.78 630.72) scale(1.002 1)">53 kDa</text>
<clipPath id="cs6"><rect x="57.2" y="524.5" width="116.5" height="20.9"/></clipPath>
<defs><linearGradient id="gcs6" x1="0" y1="0" x2="0" y2="1"><stop offset="0" stop-color="#dadada"/><stop offset="1" stop-color="#e2e2e2"/></linearGradient></defs>
<rect x="57.2" y="524.5" width="116.5" height="20.9" fill="url(#gcs6)"/>
<g clip-path="url(#cs6)"><g filter="url(#bl3)">
<rect x="59" y="530.4" width="18" height="8.4" rx="3.36" fill="#5a5a5a"/>
<rect x="83.5" y="528.4" width="15.3" height="11.2" rx="4.48" fill="#707070"/>
<rect x="106.2" y="531" width="15.8" height="8.4" rx="3.36" fill="#888"/>
<rect x="129" y="532.6" width="17.6" height="7.4" rx="2.96" fill="#8e8e8e"/>
<rect x="152.6" y="531.6" width="17" height="9" rx="3.6" fill="#747474"/>
</g></g>
<clipPath id="cs7"><rect x="57.2" y="549" width="116.5" height="21.8"/></clipPath>
<rect x="57.2" y="549" width="116.5" height="21.8" fill="#e2e2e2"/>
<g clip-path="url(#cs7)"><g filter="url(#bl1)">
<path d="M58.2,551.6 Q58.2,550.1 59.7,550.1 Q63.17,554.5 67.24,555.6 L78.8,555.6 Q80.8,555.6 80.8,557.6 L80.8,562.2 Q80.8,564.2 78.8,564.2 L60.2,564.2 Q58.2,564.2 58.2,562.2 Z" fill="#060606"/>
<path d="M83.6,555.4 Q83.6,553.9 85.1,553.9 Q88.13,555.1 91.84,555.4 L102.2,555.4 Q104.2,555.4 104.2,557.4 L104.2,562.8 Q104.2,564.8 102.2,564.8 L85.6,564.8 Q83.6,564.8 83.6,562.8 Z" fill="#161616"/>
<path d="M106.4,553.6 Q106.4,552.1 107.9,552.1 Q111.24,554.9 115.2,555.6 L126.4,555.6 Q128.4,555.6 128.4,557.6 L128.4,563.4 Q128.4,565.4 126.4,565.4 L108.4,565.4 Q106.4,565.4 106.4,563.4 Z" fill="#080808"/>
<path d="M129.6,554.7 Q129.6,553.2 131.1,553.2 Q134.26,555.6 138.08,556.2 L148.8,556.2 Q150.8,556.2 150.8,558.2 L150.8,564.6 Q150.8,566.6 148.8,566.6 L131.6,566.6 Q129.6,566.6 129.6,564.6 Z" fill="#0e0e0e"/>
<path d="M152.4,556 Q152.4,554.5 153.9,554.5 Q156.98,556.5 160.72,557 L171.2,557 Q173.2,557 173.2,559 L173.2,565.4 Q173.2,567.4 171.2,567.4 L154.4,567.4 Q152.4,567.4 152.4,565.4 Z" fill="#121212"/>
</g></g>
<clipPath id="cs8"><rect x="57.2" y="573.7" width="116.5" height="20.1"/></clipPath>
<rect x="57.2" y="573.7" width="116.5" height="20.1" fill="#e2e2e2"/>
<g clip-path="url(#cs8)"><g filter="url(#bl1)">
</g></g>
<clipPath id="cs9"><rect x="57.2" y="598.2" width="116" height="24.5"/></clipPath>
<rect x="57.2" y="598.2" width="116" height="24.5" fill="#dcdcdc"/>
<g clip-path="url(#cs9)"><g filter="url(#bl2)">
<rect x="58.5" y="603.8" width="20.9" height="5" rx="2" fill="#a4a4a4"/>
<rect x="84.2" y="604" width="17" height="5" rx="2" fill="#a8a8a8"/>
<rect x="107" y="604" width="17" height="5" rx="2" fill="#a4a4a4"/>
<rect x="129.7" y="604.2" width="17.1" height="5" rx="2" fill="#acacac"/>
<rect x="152.5" y="604.2" width="18" height="5" rx="2" fill="#a8a8a8"/>
<rect x="58.5" y="611" width="20.9" height="7.4" rx="2.96" fill="#606060"/>
<rect x="84.2" y="611" width="17" height="7.4" rx="2.96" fill="#666"/>
<rect x="107" y="611" width="17" height="7.4" rx="2.96" fill="#5c5c5c"/>
<rect x="129.7" y="611.4" width="17.1" height="6.6" rx="2.64" fill="#555"/>
<rect x="152.5" y="611.4" width="18" height="6.6" rx="2.64" fill="#3e3e3e"/>
</g></g>
<clipPath id="cs10"><rect x="57.2" y="622.7" width="116" height="17"/></clipPath>
<rect x="57.2" y="622.7" width="116" height="17" fill="#e0e0e0"/>
<g clip-path="url(#cs10)"><g filter="url(#bl2)">
<rect x="59" y="626" width="20.5" height="10.5" rx="4.2" fill="#3c3c3c"/>
<rect x="83.5" y="626.4" width="18" height="10.2" rx="4.08" fill="#303030"/>
<rect x="106.5" y="627.2" width="17.5" height="8.8" rx="3.52" fill="#262626"/>
<rect x="129.5" y="626.4" width="17.5" height="10.2" rx="4.08" fill="#141414"/>
<rect x="152.5" y="626.8" width="18" height="10" rx="4" fill="#2c2c2c"/>
</g></g>
<defs><linearGradient id="tg48" x1="0" y1="0" x2="0" y2="1"><stop offset="0.000" stop-color="#cacaca"/><stop offset="0.011" stop-color="#c0c0c0"/><stop offset="0.022" stop-color="#b7b7b7"/><stop offset="0.033" stop-color="#aeaeae"/><stop offset="0.044" stop-color="#a6a6a6"/><stop offset="0.056" stop-color="#9b9b9b"/><stop offset="0.067" stop-color="#a5a5a5"/><stop offset="0.078" stop-color="#9f9f9f"/><stop offset="0.089" stop-color="#989898"/><stop offset="0.100" stop-color="#a0a0a0"/><stop offset="0.111" stop-color="#a2a2a2"/><stop offset="0.122" stop-color="#a4a4a4"/><stop offset="0.133" stop-color="#a3a3a3"/><stop offset="0.144" stop-color="#929292"/><stop offset="0.156" stop-color="#8d8d8d"/><stop offset="0.167" stop-color="#9e9e9e"/><stop offset="0.178" stop-color="#989898"/><stop offset="0.189" stop-color="#a1a1a1"/><stop offset="0.200" stop-color="#959595"/><stop offset="0.211" stop-color="#9e9e9e"/><stop offset="0.222" stop-color="#a2a2a2"/><stop offset="0.233" stop-color="#979797"/><stop offset="0.244" stop-color="#a4a4a4"/><stop offset="0.256" stop-color="#a2a2a2"/><stop offset="0.267" stop-color="#929292"/><stop offset="0.278" stop-color="#949494"/><stop offset="0.289" stop-color="#a1a1a1"/><stop offset="0.300" stop-color="#acacac"/><stop offset="0.311" stop-color="#a3a3a3"/><stop offset="0.322" stop-color="#9d9d9d"/><stop offset="0.333" stop-color="#9f9f9f"/><stop offset="0.344" stop-color="#959595"/><stop offset="0.356" stop-color="#969696"/><stop offset="0.367" stop-color="#989898"/><stop offset="0.378" stop-color="#989898"/><stop offset="0.389" stop-color="#919191"/><stop offset="0.400" stop-color="#909090"/><stop offset="0.411" stop-color="#8e8e8e"/><stop offset="0.422" stop-color="#919191"/><stop offset="0.433" stop-color="#8c8c8c"/><stop offset="0.444" stop-color="#848484"/><stop offset="0.456" stop-color="#929292"/><stop offset="0.467" stop-color="#8a8a8a"/><stop offset="0.478" stop-color="#858585"/><stop offset="0.489" stop-color="#767676"/><stop offset="0.500" stop-color="#808080"/><stop offset="0.511" stop-color="#7a7a7a"/><stop offset="0.522" stop-color="#686868"/><stop offset="0.533" stop-color="#6f6f6f"/><stop offset="0.544" stop-color="#808080"/><stop offset="0.556" stop-color="#888888"/><stop offset="0.567" stop-color="#888888"/><stop offset="0.578" stop-color="#7a7a7a"/><stop offset="0.589" stop-color="#898989"/><stop offset="0.600" stop-color="#949494"/><stop offset="0.611" stop-color="#9b9b9b"/><stop offset="0.622" stop-color="#aaaaaa"/><stop offset="0.633" stop-color="#b4b4b4"/><stop offset="0.644" stop-color="#b6b6b6"/><stop offset="0.656" stop-color="#b3b3b3"/><stop offset="0.667" stop-color="#b8b8b8"/><stop offset="0.678" stop-color="#aeaeae"/><stop offset="0.689" stop-color="#b1b1b1"/><stop offset="0.700" stop-color="#bcbcbc"/><stop offset="0.711" stop-color="#b4b4b4"/><stop offset="0.722" stop-color="#aeaeae"/><stop offset="0.733" stop-color="#b5b5b5"/><stop offset="0.744" stop-color="#b8b8b8"/><stop offset="0.756" stop-color="#b6b6b6"/><stop offset="0.767" stop-color="#afafaf"/><stop offset="0.778" stop-color="#b0b0b0"/><stop offset="0.789" stop-color="#b0b0b0"/><stop offset="0.800" stop-color="#b4b4b4"/><stop offset="0.811" stop-color="#a9a9a9"/><stop offset="0.822" stop-color="#a0a0a0"/><stop offset="0.833" stop-color="#9c9c9c"/><stop offset="0.844" stop-color="#969696"/><stop offset="0.856" stop-color="#9a9a9a"/><stop offset="0.867" stop-color="#adadad"/><stop offset="0.878" stop-color="#b9b9b9"/><stop offset="0.889" stop-color="#b7b7b7"/><stop offset="0.900" stop-color="#bababa"/><stop offset="0.911" stop-color="#b7b7b7"/><stop offset="0.922" stop-color="#bababa"/><stop offset="0.933" stop-color="#c0c0c0"/><stop offset="0.944" stop-color="#bababa"/><stop offset="0.956" stop-color="#bababa"/><stop offset="0.967" stop-color="#bfbfbf"/><stop offset="0.978" stop-color="#c4c4c4"/><stop offset="0.989" stop-color="#c9c9c9"/><stop offset="1.000" stop-color="#cdcdcd"/></linearGradient></defs>
<rect x="57.8" y="647.4" width="111.4" height="111.0" fill="#d8d8d8"/>
<g filter="url(#bl2)">
<rect x="61" y="648.4" width="18" height="109.0" fill="url(#tg48)" rx="3"/>
<rect x="82.8" y="648.4" width="18" height="109.0" fill="url(#tg48)" rx="3"/>
<rect x="104.9" y="648.4" width="18" height="109.0" fill="url(#tg48)" rx="3"/>
<rect x="126.6" y="648.4" width="18" height="109.0" fill="url(#tg48)" rx="3"/>
<rect x="149.4" y="648.4" width="18" height="109.0" fill="url(#tg48)" rx="3"/>
</g>
<text x="0" y="0" font-size="19.86" font-weight="bold" stroke="#000" stroke-width="0.6" transform="translate(7.34 241.1) scale(0.961 1)">C</text>
</svg></body></html>
